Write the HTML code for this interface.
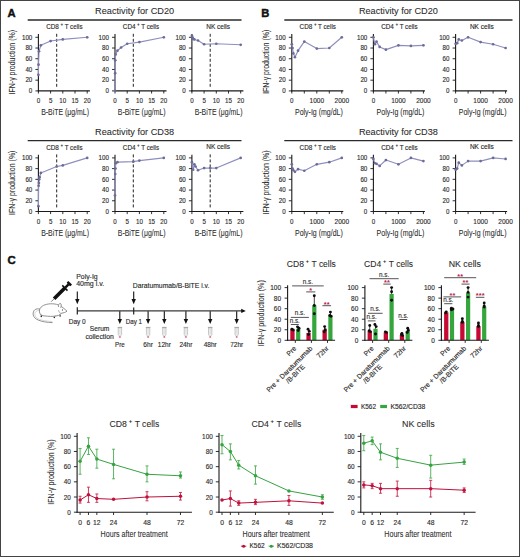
<!DOCTYPE html>
<html><head><meta charset="utf-8"><title>Figure</title>
<style>
html,body{margin:0;padding:0;background:#fff;}
body{width:520px;height:557px;overflow:hidden;font-family:"Liberation Sans", sans-serif;}
svg{display:block;}
text{font-family:"Liberation Sans", sans-serif;}
</style></head><body>
<svg width="520" height="557" viewBox="0 0 520 557" font-family="'Liberation Sans', sans-serif" fill="#2b2b2b"><rect x="0" y="0" width="520" height="557" fill="#fff"/><text x="134.6" y="14.3" font-size="9" text-anchor="middle" stroke="#2b2b2b" stroke-width="0.07" textLength="79" lengthAdjust="spacingAndGlyphs">Reactivity for CD20</text>
<line x1="27.7" y1="20" x2="241.5" y2="20" stroke="#2a2a2a" stroke-width="1.3"/>
<text x="398.4" y="14.3" font-size="9" text-anchor="middle" stroke="#2b2b2b" stroke-width="0.07" textLength="79" lengthAdjust="spacingAndGlyphs">Reactivity for CD20</text>
<line x1="284.3" y1="20" x2="512.5" y2="20" stroke="#2a2a2a" stroke-width="1.3"/>
<line x1="38.4" y1="34.1" x2="38.4" y2="91.5" stroke="#1a1a1a" stroke-width="1.1"/>
<line x1="37.9" y1="90.9" x2="89.9" y2="90.9" stroke="#1a1a1a" stroke-width="1.1"/>
<line x1="35.4" y1="90.9" x2="38.4" y2="90.9" stroke="#1a1a1a" stroke-width="0.9"/>
<text x="32.3" y="93.1" font-size="7" text-anchor="end" stroke="#2b2b2b" stroke-width="0.14" textLength="3.45" lengthAdjust="spacingAndGlyphs">0</text>
<line x1="35.4" y1="80.18" x2="38.4" y2="80.18" stroke="#1a1a1a" stroke-width="0.9"/>
<text x="32.3" y="82.38" font-size="7" text-anchor="end" stroke="#2b2b2b" stroke-width="0.14" textLength="6.9" lengthAdjust="spacingAndGlyphs">20</text>
<line x1="35.4" y1="69.46" x2="38.4" y2="69.46" stroke="#1a1a1a" stroke-width="0.9"/>
<text x="32.3" y="71.66" font-size="7" text-anchor="end" stroke="#2b2b2b" stroke-width="0.14" textLength="6.9" lengthAdjust="spacingAndGlyphs">40</text>
<line x1="35.4" y1="58.74" x2="38.4" y2="58.74" stroke="#1a1a1a" stroke-width="0.9"/>
<text x="32.3" y="60.94" font-size="7" text-anchor="end" stroke="#2b2b2b" stroke-width="0.14" textLength="6.9" lengthAdjust="spacingAndGlyphs">60</text>
<line x1="35.4" y1="48.02" x2="38.4" y2="48.02" stroke="#1a1a1a" stroke-width="0.9"/>
<text x="32.3" y="50.22" font-size="7" text-anchor="end" stroke="#2b2b2b" stroke-width="0.14" textLength="6.9" lengthAdjust="spacingAndGlyphs">80</text>
<line x1="35.4" y1="37.3" x2="38.4" y2="37.3" stroke="#1a1a1a" stroke-width="0.9"/>
<text x="32.3" y="39.5" font-size="7" text-anchor="end" stroke="#2b2b2b" stroke-width="0.14" textLength="10.35" lengthAdjust="spacingAndGlyphs">100</text>
<line x1="38.4" y1="90.9" x2="38.4" y2="93.5" stroke="#1a1a1a" stroke-width="0.9"/>
<text x="38.4" y="102.9" font-size="7.2" text-anchor="middle" stroke="#2b2b2b" stroke-width="0.14" textLength="3.45" lengthAdjust="spacingAndGlyphs">0</text>
<line x1="50.6" y1="90.9" x2="50.6" y2="93.5" stroke="#1a1a1a" stroke-width="0.9"/>
<text x="50.6" y="102.9" font-size="7.2" text-anchor="middle" stroke="#2b2b2b" stroke-width="0.14" textLength="3.45" lengthAdjust="spacingAndGlyphs">5</text>
<line x1="62.8" y1="90.9" x2="62.8" y2="93.5" stroke="#1a1a1a" stroke-width="0.9"/>
<text x="62.8" y="102.9" font-size="7.2" text-anchor="middle" stroke="#2b2b2b" stroke-width="0.14" textLength="6.9" lengthAdjust="spacingAndGlyphs">10</text>
<line x1="75" y1="90.9" x2="75" y2="93.5" stroke="#1a1a1a" stroke-width="0.9"/>
<text x="75" y="102.9" font-size="7.2" text-anchor="middle" stroke="#2b2b2b" stroke-width="0.14" textLength="6.9" lengthAdjust="spacingAndGlyphs">15</text>
<line x1="87.2" y1="90.9" x2="87.2" y2="93.5" stroke="#1a1a1a" stroke-width="0.9"/>
<text x="87.2" y="102.9" font-size="7.2" text-anchor="middle" stroke="#2b2b2b" stroke-width="0.14" textLength="6.9" lengthAdjust="spacingAndGlyphs">20</text>
<text x="41.2" y="114.9" font-size="8.8" stroke="#2b2b2b" stroke-width="0.07" textLength="47.8" lengthAdjust="spacingAndGlyphs">B-BiTE (μg/mL)</text>
<text x="46.2" y="28.9" font-size="6.9" stroke="#2b2b2b" stroke-width="0.14" textLength="12.71" lengthAdjust="spacingAndGlyphs">CD8</text>
<text x="61.81" y="26.14" font-size="4.55" text-anchor="middle" font-weight="bold">+</text>
<text x="64.71" y="28.9" font-size="6.9" stroke="#2b2b2b" stroke-width="0.14" textLength="17.79" lengthAdjust="spacingAndGlyphs">T cells</text>
<line x1="56.7" y1="33.8" x2="56.7" y2="88.4" stroke="#222" stroke-width="1" stroke-dasharray="3 2"/>
<polyline points="38.4,74.82 38.52,64.64 39.01,51.24 40.84,45.34 50.6,41.05 62.8,39.44 87.2,37.3" fill="none" stroke="#8f8fbf" stroke-width="1.15" stroke-linejoin="round"/>
<circle cx="38.4" cy="74.82" r="1.35" fill="#6c6c98"/>
<circle cx="38.52" cy="64.64" r="1.35" fill="#6c6c98"/>
<circle cx="39.01" cy="51.24" r="1.35" fill="#6c6c98"/>
<circle cx="40.84" cy="45.34" r="1.35" fill="#6c6c98"/>
<circle cx="50.6" cy="41.05" r="1.35" fill="#6c6c98"/>
<circle cx="62.8" cy="39.44" r="1.35" fill="#6c6c98"/>
<circle cx="87.2" cy="37.3" r="1.35" fill="#6c6c98"/>
<line x1="291.8" y1="34.1" x2="291.8" y2="91.5" stroke="#1a1a1a" stroke-width="1.1"/>
<line x1="291.3" y1="90.9" x2="343.3" y2="90.9" stroke="#1a1a1a" stroke-width="1.1"/>
<line x1="288.8" y1="90.9" x2="291.8" y2="90.9" stroke="#1a1a1a" stroke-width="0.9"/>
<text x="285.7" y="93.1" font-size="7" text-anchor="end" stroke="#2b2b2b" stroke-width="0.14" textLength="3.45" lengthAdjust="spacingAndGlyphs">0</text>
<line x1="288.8" y1="80.18" x2="291.8" y2="80.18" stroke="#1a1a1a" stroke-width="0.9"/>
<text x="285.7" y="82.38" font-size="7" text-anchor="end" stroke="#2b2b2b" stroke-width="0.14" textLength="6.9" lengthAdjust="spacingAndGlyphs">20</text>
<line x1="288.8" y1="69.46" x2="291.8" y2="69.46" stroke="#1a1a1a" stroke-width="0.9"/>
<text x="285.7" y="71.66" font-size="7" text-anchor="end" stroke="#2b2b2b" stroke-width="0.14" textLength="6.9" lengthAdjust="spacingAndGlyphs">40</text>
<line x1="288.8" y1="58.74" x2="291.8" y2="58.74" stroke="#1a1a1a" stroke-width="0.9"/>
<text x="285.7" y="60.94" font-size="7" text-anchor="end" stroke="#2b2b2b" stroke-width="0.14" textLength="6.9" lengthAdjust="spacingAndGlyphs">60</text>
<line x1="288.8" y1="48.02" x2="291.8" y2="48.02" stroke="#1a1a1a" stroke-width="0.9"/>
<text x="285.7" y="50.22" font-size="7" text-anchor="end" stroke="#2b2b2b" stroke-width="0.14" textLength="6.9" lengthAdjust="spacingAndGlyphs">80</text>
<line x1="288.8" y1="37.3" x2="291.8" y2="37.3" stroke="#1a1a1a" stroke-width="0.9"/>
<text x="285.7" y="39.5" font-size="7" text-anchor="end" stroke="#2b2b2b" stroke-width="0.14" textLength="10.35" lengthAdjust="spacingAndGlyphs">100</text>
<line x1="291.8" y1="90.9" x2="291.8" y2="93.5" stroke="#1a1a1a" stroke-width="0.9"/>
<text x="291.8" y="102.9" font-size="7.2" text-anchor="middle" stroke="#2b2b2b" stroke-width="0.14" textLength="3.45" lengthAdjust="spacingAndGlyphs">0</text>
<line x1="304.3" y1="90.9" x2="304.3" y2="93.5" stroke="#1a1a1a" stroke-width="0.9"/>
<line x1="316.8" y1="90.9" x2="316.8" y2="93.5" stroke="#1a1a1a" stroke-width="0.9"/>
<text x="316.8" y="102.9" font-size="7.2" text-anchor="middle" stroke="#2b2b2b" stroke-width="0.14" textLength="14.48" lengthAdjust="spacingAndGlyphs">1000</text>
<line x1="329.3" y1="90.9" x2="329.3" y2="93.5" stroke="#1a1a1a" stroke-width="0.9"/>
<line x1="341.8" y1="90.9" x2="341.8" y2="93.5" stroke="#1a1a1a" stroke-width="0.9"/>
<text x="341.8" y="102.9" font-size="7.2" text-anchor="middle" stroke="#2b2b2b" stroke-width="0.14" textLength="14.48" lengthAdjust="spacingAndGlyphs">2000</text>
<text x="295" y="114.9" font-size="8.8" stroke="#2b2b2b" stroke-width="0.07" textLength="47.8" lengthAdjust="spacingAndGlyphs">Poly-Ig (mg/dL)</text>
<text x="299.6" y="28.9" font-size="6.9" stroke="#2b2b2b" stroke-width="0.14" textLength="12.71" lengthAdjust="spacingAndGlyphs">CD8</text>
<text x="315.21" y="26.14" font-size="4.55" text-anchor="middle" font-weight="bold">+</text>
<text x="318.11" y="28.9" font-size="6.9" stroke="#2b2b2b" stroke-width="0.14" textLength="17.79" lengthAdjust="spacingAndGlyphs">T cells</text>
<polyline points="291.8,44.27 292.55,48.02 293.36,53.38 294.93,57.13 298.05,50.7 304.3,41.59 316.8,48.56 329.3,48.02 341.8,37.3" fill="none" stroke="#8f8fbf" stroke-width="1.15" stroke-linejoin="round"/>
<circle cx="291.8" cy="44.27" r="1.35" fill="#6c6c98"/>
<circle cx="292.55" cy="48.02" r="1.35" fill="#6c6c98"/>
<circle cx="293.36" cy="53.38" r="1.35" fill="#6c6c98"/>
<circle cx="294.93" cy="57.13" r="1.35" fill="#6c6c98"/>
<circle cx="298.05" cy="50.7" r="1.35" fill="#6c6c98"/>
<circle cx="304.3" cy="41.59" r="1.35" fill="#6c6c98"/>
<circle cx="316.8" cy="48.56" r="1.35" fill="#6c6c98"/>
<circle cx="329.3" cy="48.02" r="1.35" fill="#6c6c98"/>
<circle cx="341.8" cy="37.3" r="1.35" fill="#6c6c98"/>
<line x1="115" y1="34.1" x2="115" y2="91.5" stroke="#1a1a1a" stroke-width="1.1"/>
<line x1="114.5" y1="90.9" x2="166.5" y2="90.9" stroke="#1a1a1a" stroke-width="1.1"/>
<line x1="112" y1="90.9" x2="115" y2="90.9" stroke="#1a1a1a" stroke-width="0.9"/>
<text x="108.9" y="93.1" font-size="7" text-anchor="end" stroke="#2b2b2b" stroke-width="0.14" textLength="3.45" lengthAdjust="spacingAndGlyphs">0</text>
<line x1="112" y1="80.18" x2="115" y2="80.18" stroke="#1a1a1a" stroke-width="0.9"/>
<text x="108.9" y="82.38" font-size="7" text-anchor="end" stroke="#2b2b2b" stroke-width="0.14" textLength="6.9" lengthAdjust="spacingAndGlyphs">20</text>
<line x1="112" y1="69.46" x2="115" y2="69.46" stroke="#1a1a1a" stroke-width="0.9"/>
<text x="108.9" y="71.66" font-size="7" text-anchor="end" stroke="#2b2b2b" stroke-width="0.14" textLength="6.9" lengthAdjust="spacingAndGlyphs">40</text>
<line x1="112" y1="58.74" x2="115" y2="58.74" stroke="#1a1a1a" stroke-width="0.9"/>
<text x="108.9" y="60.94" font-size="7" text-anchor="end" stroke="#2b2b2b" stroke-width="0.14" textLength="6.9" lengthAdjust="spacingAndGlyphs">60</text>
<line x1="112" y1="48.02" x2="115" y2="48.02" stroke="#1a1a1a" stroke-width="0.9"/>
<text x="108.9" y="50.22" font-size="7" text-anchor="end" stroke="#2b2b2b" stroke-width="0.14" textLength="6.9" lengthAdjust="spacingAndGlyphs">80</text>
<line x1="112" y1="37.3" x2="115" y2="37.3" stroke="#1a1a1a" stroke-width="0.9"/>
<text x="108.9" y="39.5" font-size="7" text-anchor="end" stroke="#2b2b2b" stroke-width="0.14" textLength="10.35" lengthAdjust="spacingAndGlyphs">100</text>
<line x1="115" y1="90.9" x2="115" y2="93.5" stroke="#1a1a1a" stroke-width="0.9"/>
<text x="115" y="102.9" font-size="7.2" text-anchor="middle" stroke="#2b2b2b" stroke-width="0.14" textLength="3.45" lengthAdjust="spacingAndGlyphs">0</text>
<line x1="127.2" y1="90.9" x2="127.2" y2="93.5" stroke="#1a1a1a" stroke-width="0.9"/>
<text x="127.2" y="102.9" font-size="7.2" text-anchor="middle" stroke="#2b2b2b" stroke-width="0.14" textLength="3.45" lengthAdjust="spacingAndGlyphs">5</text>
<line x1="139.4" y1="90.9" x2="139.4" y2="93.5" stroke="#1a1a1a" stroke-width="0.9"/>
<text x="139.4" y="102.9" font-size="7.2" text-anchor="middle" stroke="#2b2b2b" stroke-width="0.14" textLength="6.9" lengthAdjust="spacingAndGlyphs">10</text>
<line x1="151.6" y1="90.9" x2="151.6" y2="93.5" stroke="#1a1a1a" stroke-width="0.9"/>
<text x="151.6" y="102.9" font-size="7.2" text-anchor="middle" stroke="#2b2b2b" stroke-width="0.14" textLength="6.9" lengthAdjust="spacingAndGlyphs">15</text>
<line x1="163.8" y1="90.9" x2="163.8" y2="93.5" stroke="#1a1a1a" stroke-width="0.9"/>
<text x="163.8" y="102.9" font-size="7.2" text-anchor="middle" stroke="#2b2b2b" stroke-width="0.14" textLength="6.9" lengthAdjust="spacingAndGlyphs">20</text>
<text x="117.8" y="114.9" font-size="8.8" stroke="#2b2b2b" stroke-width="0.07" textLength="47.8" lengthAdjust="spacingAndGlyphs">B-BiTE (μg/mL)</text>
<text x="122.8" y="28.9" font-size="6.9" stroke="#2b2b2b" stroke-width="0.14" textLength="12.7" lengthAdjust="spacingAndGlyphs">CD4</text>
<text x="138.41" y="26.14" font-size="4.55" text-anchor="middle" font-weight="bold">+</text>
<text x="141.31" y="28.9" font-size="6.9" stroke="#2b2b2b" stroke-width="0.14" textLength="17.79" lengthAdjust="spacingAndGlyphs">T cells</text>
<line x1="133.3" y1="33.8" x2="133.3" y2="88.4" stroke="#222" stroke-width="1" stroke-dasharray="3 2"/>
<polyline points="115,90.9 115.15,73.21 115.29,60.35 115.61,54.45 117.44,50.7 121.1,47.48 127.2,43.73 139.4,42.12 163.8,37.3" fill="none" stroke="#8f8fbf" stroke-width="1.15" stroke-linejoin="round"/>
<circle cx="115" cy="90.9" r="1.35" fill="#6c6c98"/>
<circle cx="115.15" cy="73.21" r="1.35" fill="#6c6c98"/>
<circle cx="115.29" cy="60.35" r="1.35" fill="#6c6c98"/>
<circle cx="115.61" cy="54.45" r="1.35" fill="#6c6c98"/>
<circle cx="117.44" cy="50.7" r="1.35" fill="#6c6c98"/>
<circle cx="121.1" cy="47.48" r="1.35" fill="#6c6c98"/>
<circle cx="127.2" cy="43.73" r="1.35" fill="#6c6c98"/>
<circle cx="139.4" cy="42.12" r="1.35" fill="#6c6c98"/>
<circle cx="163.8" cy="37.3" r="1.35" fill="#6c6c98"/>
<line x1="373.4" y1="34.1" x2="373.4" y2="91.5" stroke="#1a1a1a" stroke-width="1.1"/>
<line x1="372.9" y1="90.9" x2="424.9" y2="90.9" stroke="#1a1a1a" stroke-width="1.1"/>
<line x1="370.4" y1="90.9" x2="373.4" y2="90.9" stroke="#1a1a1a" stroke-width="0.9"/>
<text x="367.3" y="93.1" font-size="7" text-anchor="end" stroke="#2b2b2b" stroke-width="0.14" textLength="3.45" lengthAdjust="spacingAndGlyphs">0</text>
<line x1="370.4" y1="80.18" x2="373.4" y2="80.18" stroke="#1a1a1a" stroke-width="0.9"/>
<text x="367.3" y="82.38" font-size="7" text-anchor="end" stroke="#2b2b2b" stroke-width="0.14" textLength="6.9" lengthAdjust="spacingAndGlyphs">20</text>
<line x1="370.4" y1="69.46" x2="373.4" y2="69.46" stroke="#1a1a1a" stroke-width="0.9"/>
<text x="367.3" y="71.66" font-size="7" text-anchor="end" stroke="#2b2b2b" stroke-width="0.14" textLength="6.9" lengthAdjust="spacingAndGlyphs">40</text>
<line x1="370.4" y1="58.74" x2="373.4" y2="58.74" stroke="#1a1a1a" stroke-width="0.9"/>
<text x="367.3" y="60.94" font-size="7" text-anchor="end" stroke="#2b2b2b" stroke-width="0.14" textLength="6.9" lengthAdjust="spacingAndGlyphs">60</text>
<line x1="370.4" y1="48.02" x2="373.4" y2="48.02" stroke="#1a1a1a" stroke-width="0.9"/>
<text x="367.3" y="50.22" font-size="7" text-anchor="end" stroke="#2b2b2b" stroke-width="0.14" textLength="6.9" lengthAdjust="spacingAndGlyphs">80</text>
<line x1="370.4" y1="37.3" x2="373.4" y2="37.3" stroke="#1a1a1a" stroke-width="0.9"/>
<text x="367.3" y="39.5" font-size="7" text-anchor="end" stroke="#2b2b2b" stroke-width="0.14" textLength="10.35" lengthAdjust="spacingAndGlyphs">100</text>
<line x1="373.4" y1="90.9" x2="373.4" y2="93.5" stroke="#1a1a1a" stroke-width="0.9"/>
<text x="373.4" y="102.9" font-size="7.2" text-anchor="middle" stroke="#2b2b2b" stroke-width="0.14" textLength="3.45" lengthAdjust="spacingAndGlyphs">0</text>
<line x1="385.9" y1="90.9" x2="385.9" y2="93.5" stroke="#1a1a1a" stroke-width="0.9"/>
<line x1="398.4" y1="90.9" x2="398.4" y2="93.5" stroke="#1a1a1a" stroke-width="0.9"/>
<text x="398.4" y="102.9" font-size="7.2" text-anchor="middle" stroke="#2b2b2b" stroke-width="0.14" textLength="14.48" lengthAdjust="spacingAndGlyphs">1000</text>
<line x1="410.9" y1="90.9" x2="410.9" y2="93.5" stroke="#1a1a1a" stroke-width="0.9"/>
<line x1="423.4" y1="90.9" x2="423.4" y2="93.5" stroke="#1a1a1a" stroke-width="0.9"/>
<text x="423.4" y="102.9" font-size="7.2" text-anchor="middle" stroke="#2b2b2b" stroke-width="0.14" textLength="14.48" lengthAdjust="spacingAndGlyphs">2000</text>
<text x="376.6" y="114.9" font-size="8.8" stroke="#2b2b2b" stroke-width="0.07" textLength="47.8" lengthAdjust="spacingAndGlyphs">Poly-Ig (mg/dL)</text>
<text x="381.2" y="28.9" font-size="6.9" stroke="#2b2b2b" stroke-width="0.14" textLength="12.71" lengthAdjust="spacingAndGlyphs">CD4</text>
<text x="396.81" y="26.14" font-size="4.55" text-anchor="middle" font-weight="bold">+</text>
<text x="399.71" y="28.9" font-size="6.9" stroke="#2b2b2b" stroke-width="0.14" textLength="17.79" lengthAdjust="spacingAndGlyphs">T cells</text>
<polyline points="373.4,37.3 374.96,44.27 376.52,41.59 379.65,46.95 385.9,49.63 398.4,45.34 410.9,45.88 423.4,45.34" fill="none" stroke="#8f8fbf" stroke-width="1.15" stroke-linejoin="round"/>
<circle cx="373.4" cy="37.3" r="1.35" fill="#6c6c98"/>
<circle cx="374.96" cy="44.27" r="1.35" fill="#6c6c98"/>
<circle cx="376.52" cy="41.59" r="1.35" fill="#6c6c98"/>
<circle cx="379.65" cy="46.95" r="1.35" fill="#6c6c98"/>
<circle cx="385.9" cy="49.63" r="1.35" fill="#6c6c98"/>
<circle cx="398.4" cy="45.34" r="1.35" fill="#6c6c98"/>
<circle cx="410.9" cy="45.88" r="1.35" fill="#6c6c98"/>
<circle cx="423.4" cy="45.34" r="1.35" fill="#6c6c98"/>
<line x1="191.9" y1="34.1" x2="191.9" y2="91.5" stroke="#1a1a1a" stroke-width="1.1"/>
<line x1="191.4" y1="90.9" x2="243.4" y2="90.9" stroke="#1a1a1a" stroke-width="1.1"/>
<line x1="188.9" y1="90.9" x2="191.9" y2="90.9" stroke="#1a1a1a" stroke-width="0.9"/>
<text x="185.8" y="93.1" font-size="7" text-anchor="end" stroke="#2b2b2b" stroke-width="0.14" textLength="3.45" lengthAdjust="spacingAndGlyphs">0</text>
<line x1="188.9" y1="80.18" x2="191.9" y2="80.18" stroke="#1a1a1a" stroke-width="0.9"/>
<text x="185.8" y="82.38" font-size="7" text-anchor="end" stroke="#2b2b2b" stroke-width="0.14" textLength="6.9" lengthAdjust="spacingAndGlyphs">20</text>
<line x1="188.9" y1="69.46" x2="191.9" y2="69.46" stroke="#1a1a1a" stroke-width="0.9"/>
<text x="185.8" y="71.66" font-size="7" text-anchor="end" stroke="#2b2b2b" stroke-width="0.14" textLength="6.9" lengthAdjust="spacingAndGlyphs">40</text>
<line x1="188.9" y1="58.74" x2="191.9" y2="58.74" stroke="#1a1a1a" stroke-width="0.9"/>
<text x="185.8" y="60.94" font-size="7" text-anchor="end" stroke="#2b2b2b" stroke-width="0.14" textLength="6.9" lengthAdjust="spacingAndGlyphs">60</text>
<line x1="188.9" y1="48.02" x2="191.9" y2="48.02" stroke="#1a1a1a" stroke-width="0.9"/>
<text x="185.8" y="50.22" font-size="7" text-anchor="end" stroke="#2b2b2b" stroke-width="0.14" textLength="6.9" lengthAdjust="spacingAndGlyphs">80</text>
<line x1="188.9" y1="37.3" x2="191.9" y2="37.3" stroke="#1a1a1a" stroke-width="0.9"/>
<text x="185.8" y="39.5" font-size="7" text-anchor="end" stroke="#2b2b2b" stroke-width="0.14" textLength="10.35" lengthAdjust="spacingAndGlyphs">100</text>
<line x1="191.9" y1="90.9" x2="191.9" y2="93.5" stroke="#1a1a1a" stroke-width="0.9"/>
<text x="191.9" y="102.9" font-size="7.2" text-anchor="middle" stroke="#2b2b2b" stroke-width="0.14" textLength="3.45" lengthAdjust="spacingAndGlyphs">0</text>
<line x1="204.1" y1="90.9" x2="204.1" y2="93.5" stroke="#1a1a1a" stroke-width="0.9"/>
<text x="204.1" y="102.9" font-size="7.2" text-anchor="middle" stroke="#2b2b2b" stroke-width="0.14" textLength="3.45" lengthAdjust="spacingAndGlyphs">5</text>
<line x1="216.3" y1="90.9" x2="216.3" y2="93.5" stroke="#1a1a1a" stroke-width="0.9"/>
<text x="216.3" y="102.9" font-size="7.2" text-anchor="middle" stroke="#2b2b2b" stroke-width="0.14" textLength="6.9" lengthAdjust="spacingAndGlyphs">10</text>
<line x1="228.5" y1="90.9" x2="228.5" y2="93.5" stroke="#1a1a1a" stroke-width="0.9"/>
<text x="228.5" y="102.9" font-size="7.2" text-anchor="middle" stroke="#2b2b2b" stroke-width="0.14" textLength="6.9" lengthAdjust="spacingAndGlyphs">15</text>
<line x1="240.7" y1="90.9" x2="240.7" y2="93.5" stroke="#1a1a1a" stroke-width="0.9"/>
<text x="240.7" y="102.9" font-size="7.2" text-anchor="middle" stroke="#2b2b2b" stroke-width="0.14" textLength="6.9" lengthAdjust="spacingAndGlyphs">20</text>
<text x="194.7" y="114.9" font-size="8.8" stroke="#2b2b2b" stroke-width="0.07" textLength="47.8" lengthAdjust="spacingAndGlyphs">B-BiTE (μg/mL)</text>
<text x="206.2" y="28.8" font-size="6.9" stroke="#2b2b2b" stroke-width="0.14" textLength="23.9" lengthAdjust="spacingAndGlyphs">NK cells</text>
<line x1="210.2" y1="33.8" x2="210.2" y2="88.4" stroke="#222" stroke-width="1" stroke-dasharray="3 2"/>
<polyline points="191.9,35.69 192.51,37.3 193.12,38.91 194.34,39.44 198,40.52 204.1,44.27 216.3,43.73 240.7,44.8" fill="none" stroke="#8f8fbf" stroke-width="1.15" stroke-linejoin="round"/>
<circle cx="191.9" cy="35.69" r="1.35" fill="#6c6c98"/>
<circle cx="192.51" cy="37.3" r="1.35" fill="#6c6c98"/>
<circle cx="193.12" cy="38.91" r="1.35" fill="#6c6c98"/>
<circle cx="194.34" cy="39.44" r="1.35" fill="#6c6c98"/>
<circle cx="198" cy="40.52" r="1.35" fill="#6c6c98"/>
<circle cx="204.1" cy="44.27" r="1.35" fill="#6c6c98"/>
<circle cx="216.3" cy="43.73" r="1.35" fill="#6c6c98"/>
<circle cx="240.7" cy="44.8" r="1.35" fill="#6c6c98"/>
<line x1="455.6" y1="34.1" x2="455.6" y2="91.5" stroke="#1a1a1a" stroke-width="1.1"/>
<line x1="455.1" y1="90.9" x2="507.1" y2="90.9" stroke="#1a1a1a" stroke-width="1.1"/>
<line x1="452.6" y1="90.9" x2="455.6" y2="90.9" stroke="#1a1a1a" stroke-width="0.9"/>
<text x="449.5" y="93.1" font-size="7" text-anchor="end" stroke="#2b2b2b" stroke-width="0.14" textLength="3.45" lengthAdjust="spacingAndGlyphs">0</text>
<line x1="452.6" y1="80.18" x2="455.6" y2="80.18" stroke="#1a1a1a" stroke-width="0.9"/>
<text x="449.5" y="82.38" font-size="7" text-anchor="end" stroke="#2b2b2b" stroke-width="0.14" textLength="6.9" lengthAdjust="spacingAndGlyphs">20</text>
<line x1="452.6" y1="69.46" x2="455.6" y2="69.46" stroke="#1a1a1a" stroke-width="0.9"/>
<text x="449.5" y="71.66" font-size="7" text-anchor="end" stroke="#2b2b2b" stroke-width="0.14" textLength="6.9" lengthAdjust="spacingAndGlyphs">40</text>
<line x1="452.6" y1="58.74" x2="455.6" y2="58.74" stroke="#1a1a1a" stroke-width="0.9"/>
<text x="449.5" y="60.94" font-size="7" text-anchor="end" stroke="#2b2b2b" stroke-width="0.14" textLength="6.9" lengthAdjust="spacingAndGlyphs">60</text>
<line x1="452.6" y1="48.02" x2="455.6" y2="48.02" stroke="#1a1a1a" stroke-width="0.9"/>
<text x="449.5" y="50.22" font-size="7" text-anchor="end" stroke="#2b2b2b" stroke-width="0.14" textLength="6.9" lengthAdjust="spacingAndGlyphs">80</text>
<line x1="452.6" y1="37.3" x2="455.6" y2="37.3" stroke="#1a1a1a" stroke-width="0.9"/>
<text x="449.5" y="39.5" font-size="7" text-anchor="end" stroke="#2b2b2b" stroke-width="0.14" textLength="10.35" lengthAdjust="spacingAndGlyphs">100</text>
<line x1="455.6" y1="90.9" x2="455.6" y2="93.5" stroke="#1a1a1a" stroke-width="0.9"/>
<text x="455.6" y="102.9" font-size="7.2" text-anchor="middle" stroke="#2b2b2b" stroke-width="0.14" textLength="3.45" lengthAdjust="spacingAndGlyphs">0</text>
<line x1="468.1" y1="90.9" x2="468.1" y2="93.5" stroke="#1a1a1a" stroke-width="0.9"/>
<line x1="480.6" y1="90.9" x2="480.6" y2="93.5" stroke="#1a1a1a" stroke-width="0.9"/>
<text x="480.6" y="102.9" font-size="7.2" text-anchor="middle" stroke="#2b2b2b" stroke-width="0.14" textLength="14.48" lengthAdjust="spacingAndGlyphs">1000</text>
<line x1="493.1" y1="90.9" x2="493.1" y2="93.5" stroke="#1a1a1a" stroke-width="0.9"/>
<line x1="505.6" y1="90.9" x2="505.6" y2="93.5" stroke="#1a1a1a" stroke-width="0.9"/>
<text x="505.6" y="102.9" font-size="7.2" text-anchor="middle" stroke="#2b2b2b" stroke-width="0.14" textLength="14.48" lengthAdjust="spacingAndGlyphs">2000</text>
<text x="458.8" y="114.9" font-size="8.8" stroke="#2b2b2b" stroke-width="0.07" textLength="47.8" lengthAdjust="spacingAndGlyphs">Poly-Ig (mg/dL)</text>
<text x="469.9" y="28.8" font-size="6.9" stroke="#2b2b2b" stroke-width="0.14" textLength="23.9" lengthAdjust="spacingAndGlyphs">NK cells</text>
<polyline points="455.6,43.73 457.16,43.2 458.73,39.44 461.85,40.52 468.1,37.3 480.6,42.12 493.1,44.27 505.6,48.02" fill="none" stroke="#8f8fbf" stroke-width="1.15" stroke-linejoin="round"/>
<circle cx="455.6" cy="43.73" r="1.35" fill="#6c6c98"/>
<circle cx="457.16" cy="43.2" r="1.35" fill="#6c6c98"/>
<circle cx="458.73" cy="39.44" r="1.35" fill="#6c6c98"/>
<circle cx="461.85" cy="40.52" r="1.35" fill="#6c6c98"/>
<circle cx="468.1" cy="37.3" r="1.35" fill="#6c6c98"/>
<circle cx="480.6" cy="42.12" r="1.35" fill="#6c6c98"/>
<circle cx="493.1" cy="44.27" r="1.35" fill="#6c6c98"/>
<circle cx="505.6" cy="48.02" r="1.35" fill="#6c6c98"/>
<text x="14.7" y="62.2" font-size="9" text-anchor="middle" stroke="#2b2b2b" stroke-width="0.07" textLength="64.5" lengthAdjust="spacingAndGlyphs" transform="rotate(-90 14.7 62.2)">IFN-γ production (%)</text>
<text x="268.9" y="61.8" font-size="9" text-anchor="middle" stroke="#2b2b2b" stroke-width="0.07" textLength="64" lengthAdjust="spacingAndGlyphs" transform="rotate(-90 268.9 61.8)">IFN-γ production (%)</text>
<text x="134.6" y="134.9" font-size="9" text-anchor="middle" stroke="#2b2b2b" stroke-width="0.07" textLength="79" lengthAdjust="spacingAndGlyphs">Reactivity for CD38</text>
<line x1="27.7" y1="140.6" x2="241.5" y2="140.6" stroke="#2a2a2a" stroke-width="1.3"/>
<text x="398.4" y="134.9" font-size="9" text-anchor="middle" stroke="#2b2b2b" stroke-width="0.07" textLength="79" lengthAdjust="spacingAndGlyphs">Reactivity for CD38</text>
<line x1="284.3" y1="140.6" x2="512.5" y2="140.6" stroke="#2a2a2a" stroke-width="1.3"/>
<line x1="38.4" y1="154.7" x2="38.4" y2="212.1" stroke="#1a1a1a" stroke-width="1.1"/>
<line x1="37.9" y1="211.5" x2="89.9" y2="211.5" stroke="#1a1a1a" stroke-width="1.1"/>
<line x1="35.4" y1="211.5" x2="38.4" y2="211.5" stroke="#1a1a1a" stroke-width="0.9"/>
<text x="32.3" y="213.7" font-size="7" text-anchor="end" stroke="#2b2b2b" stroke-width="0.14" textLength="3.45" lengthAdjust="spacingAndGlyphs">0</text>
<line x1="35.4" y1="200.78" x2="38.4" y2="200.78" stroke="#1a1a1a" stroke-width="0.9"/>
<text x="32.3" y="202.98" font-size="7" text-anchor="end" stroke="#2b2b2b" stroke-width="0.14" textLength="6.9" lengthAdjust="spacingAndGlyphs">20</text>
<line x1="35.4" y1="190.06" x2="38.4" y2="190.06" stroke="#1a1a1a" stroke-width="0.9"/>
<text x="32.3" y="192.26" font-size="7" text-anchor="end" stroke="#2b2b2b" stroke-width="0.14" textLength="6.9" lengthAdjust="spacingAndGlyphs">40</text>
<line x1="35.4" y1="179.34" x2="38.4" y2="179.34" stroke="#1a1a1a" stroke-width="0.9"/>
<text x="32.3" y="181.54" font-size="7" text-anchor="end" stroke="#2b2b2b" stroke-width="0.14" textLength="6.9" lengthAdjust="spacingAndGlyphs">60</text>
<line x1="35.4" y1="168.62" x2="38.4" y2="168.62" stroke="#1a1a1a" stroke-width="0.9"/>
<text x="32.3" y="170.82" font-size="7" text-anchor="end" stroke="#2b2b2b" stroke-width="0.14" textLength="6.9" lengthAdjust="spacingAndGlyphs">80</text>
<line x1="35.4" y1="157.9" x2="38.4" y2="157.9" stroke="#1a1a1a" stroke-width="0.9"/>
<text x="32.3" y="160.1" font-size="7" text-anchor="end" stroke="#2b2b2b" stroke-width="0.14" textLength="10.35" lengthAdjust="spacingAndGlyphs">100</text>
<line x1="38.4" y1="211.5" x2="38.4" y2="214.1" stroke="#1a1a1a" stroke-width="0.9"/>
<text x="38.4" y="223.5" font-size="7.2" text-anchor="middle" stroke="#2b2b2b" stroke-width="0.14" textLength="3.45" lengthAdjust="spacingAndGlyphs">0</text>
<line x1="50.6" y1="211.5" x2="50.6" y2="214.1" stroke="#1a1a1a" stroke-width="0.9"/>
<text x="50.6" y="223.5" font-size="7.2" text-anchor="middle" stroke="#2b2b2b" stroke-width="0.14" textLength="3.45" lengthAdjust="spacingAndGlyphs">5</text>
<line x1="62.8" y1="211.5" x2="62.8" y2="214.1" stroke="#1a1a1a" stroke-width="0.9"/>
<text x="62.8" y="223.5" font-size="7.2" text-anchor="middle" stroke="#2b2b2b" stroke-width="0.14" textLength="6.9" lengthAdjust="spacingAndGlyphs">10</text>
<line x1="75" y1="211.5" x2="75" y2="214.1" stroke="#1a1a1a" stroke-width="0.9"/>
<text x="75" y="223.5" font-size="7.2" text-anchor="middle" stroke="#2b2b2b" stroke-width="0.14" textLength="6.9" lengthAdjust="spacingAndGlyphs">15</text>
<line x1="87.2" y1="211.5" x2="87.2" y2="214.1" stroke="#1a1a1a" stroke-width="0.9"/>
<text x="87.2" y="223.5" font-size="7.2" text-anchor="middle" stroke="#2b2b2b" stroke-width="0.14" textLength="6.9" lengthAdjust="spacingAndGlyphs">20</text>
<text x="41.2" y="235.5" font-size="8.8" stroke="#2b2b2b" stroke-width="0.07" textLength="47.8" lengthAdjust="spacingAndGlyphs">B-BiTE (μg/mL)</text>
<text x="46.2" y="149.5" font-size="6.9" stroke="#2b2b2b" stroke-width="0.14" textLength="12.71" lengthAdjust="spacingAndGlyphs">CD8</text>
<text x="61.81" y="146.74" font-size="4.55" text-anchor="middle" font-weight="bold">+</text>
<text x="64.71" y="149.5" font-size="6.9" stroke="#2b2b2b" stroke-width="0.14" textLength="17.79" lengthAdjust="spacingAndGlyphs">T cells</text>
<line x1="56.7" y1="154.4" x2="56.7" y2="209" stroke="#222" stroke-width="1" stroke-dasharray="3 2"/>
<polyline points="38.4,206.14 38.64,185.77 38.89,183.09 39.25,179.34 39.62,177.2 40.84,172.91 56.7,166.48 62.8,165.4 87.2,157.9" fill="none" stroke="#8f8fbf" stroke-width="1.15" stroke-linejoin="round"/>
<circle cx="38.4" cy="206.14" r="1.35" fill="#6c6c98"/>
<circle cx="38.64" cy="185.77" r="1.35" fill="#6c6c98"/>
<circle cx="38.89" cy="183.09" r="1.35" fill="#6c6c98"/>
<circle cx="39.25" cy="179.34" r="1.35" fill="#6c6c98"/>
<circle cx="39.62" cy="177.2" r="1.35" fill="#6c6c98"/>
<circle cx="40.84" cy="172.91" r="1.35" fill="#6c6c98"/>
<circle cx="56.7" cy="166.48" r="1.35" fill="#6c6c98"/>
<circle cx="62.8" cy="165.4" r="1.35" fill="#6c6c98"/>
<circle cx="87.2" cy="157.9" r="1.35" fill="#6c6c98"/>
<line x1="291.8" y1="154.7" x2="291.8" y2="212.1" stroke="#1a1a1a" stroke-width="1.1"/>
<line x1="291.3" y1="211.5" x2="343.3" y2="211.5" stroke="#1a1a1a" stroke-width="1.1"/>
<line x1="288.8" y1="211.5" x2="291.8" y2="211.5" stroke="#1a1a1a" stroke-width="0.9"/>
<text x="285.7" y="213.7" font-size="7" text-anchor="end" stroke="#2b2b2b" stroke-width="0.14" textLength="3.45" lengthAdjust="spacingAndGlyphs">0</text>
<line x1="288.8" y1="200.78" x2="291.8" y2="200.78" stroke="#1a1a1a" stroke-width="0.9"/>
<text x="285.7" y="202.98" font-size="7" text-anchor="end" stroke="#2b2b2b" stroke-width="0.14" textLength="6.9" lengthAdjust="spacingAndGlyphs">20</text>
<line x1="288.8" y1="190.06" x2="291.8" y2="190.06" stroke="#1a1a1a" stroke-width="0.9"/>
<text x="285.7" y="192.26" font-size="7" text-anchor="end" stroke="#2b2b2b" stroke-width="0.14" textLength="6.9" lengthAdjust="spacingAndGlyphs">40</text>
<line x1="288.8" y1="179.34" x2="291.8" y2="179.34" stroke="#1a1a1a" stroke-width="0.9"/>
<text x="285.7" y="181.54" font-size="7" text-anchor="end" stroke="#2b2b2b" stroke-width="0.14" textLength="6.9" lengthAdjust="spacingAndGlyphs">60</text>
<line x1="288.8" y1="168.62" x2="291.8" y2="168.62" stroke="#1a1a1a" stroke-width="0.9"/>
<text x="285.7" y="170.82" font-size="7" text-anchor="end" stroke="#2b2b2b" stroke-width="0.14" textLength="6.9" lengthAdjust="spacingAndGlyphs">80</text>
<line x1="288.8" y1="157.9" x2="291.8" y2="157.9" stroke="#1a1a1a" stroke-width="0.9"/>
<text x="285.7" y="160.1" font-size="7" text-anchor="end" stroke="#2b2b2b" stroke-width="0.14" textLength="10.35" lengthAdjust="spacingAndGlyphs">100</text>
<line x1="291.8" y1="211.5" x2="291.8" y2="214.1" stroke="#1a1a1a" stroke-width="0.9"/>
<text x="291.8" y="223.5" font-size="7.2" text-anchor="middle" stroke="#2b2b2b" stroke-width="0.14" textLength="3.45" lengthAdjust="spacingAndGlyphs">0</text>
<line x1="304.3" y1="211.5" x2="304.3" y2="214.1" stroke="#1a1a1a" stroke-width="0.9"/>
<line x1="316.8" y1="211.5" x2="316.8" y2="214.1" stroke="#1a1a1a" stroke-width="0.9"/>
<text x="316.8" y="223.5" font-size="7.2" text-anchor="middle" stroke="#2b2b2b" stroke-width="0.14" textLength="14.48" lengthAdjust="spacingAndGlyphs">1000</text>
<line x1="329.3" y1="211.5" x2="329.3" y2="214.1" stroke="#1a1a1a" stroke-width="0.9"/>
<line x1="341.8" y1="211.5" x2="341.8" y2="214.1" stroke="#1a1a1a" stroke-width="0.9"/>
<text x="341.8" y="223.5" font-size="7.2" text-anchor="middle" stroke="#2b2b2b" stroke-width="0.14" textLength="14.48" lengthAdjust="spacingAndGlyphs">2000</text>
<text x="295" y="235.5" font-size="8.8" stroke="#2b2b2b" stroke-width="0.07" textLength="47.8" lengthAdjust="spacingAndGlyphs">Poly-Ig (mg/dL)</text>
<text x="299.6" y="149.5" font-size="6.9" stroke="#2b2b2b" stroke-width="0.14" textLength="12.71" lengthAdjust="spacingAndGlyphs">CD8</text>
<text x="315.21" y="146.74" font-size="4.55" text-anchor="middle" font-weight="bold">+</text>
<text x="318.11" y="149.5" font-size="6.9" stroke="#2b2b2b" stroke-width="0.14" textLength="17.79" lengthAdjust="spacingAndGlyphs">T cells</text>
<polyline points="291.8,164.33 292.55,168.62 293.36,170.23 294.93,171.84 298.05,169.16 304.3,170.76 316.8,164.33 329.3,162.19 341.8,157.9" fill="none" stroke="#8f8fbf" stroke-width="1.15" stroke-linejoin="round"/>
<circle cx="291.8" cy="164.33" r="1.35" fill="#6c6c98"/>
<circle cx="292.55" cy="168.62" r="1.35" fill="#6c6c98"/>
<circle cx="293.36" cy="170.23" r="1.35" fill="#6c6c98"/>
<circle cx="294.93" cy="171.84" r="1.35" fill="#6c6c98"/>
<circle cx="298.05" cy="169.16" r="1.35" fill="#6c6c98"/>
<circle cx="304.3" cy="170.76" r="1.35" fill="#6c6c98"/>
<circle cx="316.8" cy="164.33" r="1.35" fill="#6c6c98"/>
<circle cx="329.3" cy="162.19" r="1.35" fill="#6c6c98"/>
<circle cx="341.8" cy="157.9" r="1.35" fill="#6c6c98"/>
<line x1="115" y1="154.7" x2="115" y2="212.1" stroke="#1a1a1a" stroke-width="1.1"/>
<line x1="114.5" y1="211.5" x2="166.5" y2="211.5" stroke="#1a1a1a" stroke-width="1.1"/>
<line x1="112" y1="211.5" x2="115" y2="211.5" stroke="#1a1a1a" stroke-width="0.9"/>
<text x="108.9" y="213.7" font-size="7" text-anchor="end" stroke="#2b2b2b" stroke-width="0.14" textLength="3.45" lengthAdjust="spacingAndGlyphs">0</text>
<line x1="112" y1="200.78" x2="115" y2="200.78" stroke="#1a1a1a" stroke-width="0.9"/>
<text x="108.9" y="202.98" font-size="7" text-anchor="end" stroke="#2b2b2b" stroke-width="0.14" textLength="6.9" lengthAdjust="spacingAndGlyphs">20</text>
<line x1="112" y1="190.06" x2="115" y2="190.06" stroke="#1a1a1a" stroke-width="0.9"/>
<text x="108.9" y="192.26" font-size="7" text-anchor="end" stroke="#2b2b2b" stroke-width="0.14" textLength="6.9" lengthAdjust="spacingAndGlyphs">40</text>
<line x1="112" y1="179.34" x2="115" y2="179.34" stroke="#1a1a1a" stroke-width="0.9"/>
<text x="108.9" y="181.54" font-size="7" text-anchor="end" stroke="#2b2b2b" stroke-width="0.14" textLength="6.9" lengthAdjust="spacingAndGlyphs">60</text>
<line x1="112" y1="168.62" x2="115" y2="168.62" stroke="#1a1a1a" stroke-width="0.9"/>
<text x="108.9" y="170.82" font-size="7" text-anchor="end" stroke="#2b2b2b" stroke-width="0.14" textLength="6.9" lengthAdjust="spacingAndGlyphs">80</text>
<line x1="112" y1="157.9" x2="115" y2="157.9" stroke="#1a1a1a" stroke-width="0.9"/>
<text x="108.9" y="160.1" font-size="7" text-anchor="end" stroke="#2b2b2b" stroke-width="0.14" textLength="10.35" lengthAdjust="spacingAndGlyphs">100</text>
<line x1="115" y1="211.5" x2="115" y2="214.1" stroke="#1a1a1a" stroke-width="0.9"/>
<text x="115" y="223.5" font-size="7.2" text-anchor="middle" stroke="#2b2b2b" stroke-width="0.14" textLength="3.45" lengthAdjust="spacingAndGlyphs">0</text>
<line x1="127.2" y1="211.5" x2="127.2" y2="214.1" stroke="#1a1a1a" stroke-width="0.9"/>
<text x="127.2" y="223.5" font-size="7.2" text-anchor="middle" stroke="#2b2b2b" stroke-width="0.14" textLength="3.45" lengthAdjust="spacingAndGlyphs">5</text>
<line x1="139.4" y1="211.5" x2="139.4" y2="214.1" stroke="#1a1a1a" stroke-width="0.9"/>
<text x="139.4" y="223.5" font-size="7.2" text-anchor="middle" stroke="#2b2b2b" stroke-width="0.14" textLength="6.9" lengthAdjust="spacingAndGlyphs">10</text>
<line x1="151.6" y1="211.5" x2="151.6" y2="214.1" stroke="#1a1a1a" stroke-width="0.9"/>
<text x="151.6" y="223.5" font-size="7.2" text-anchor="middle" stroke="#2b2b2b" stroke-width="0.14" textLength="6.9" lengthAdjust="spacingAndGlyphs">15</text>
<line x1="163.8" y1="211.5" x2="163.8" y2="214.1" stroke="#1a1a1a" stroke-width="0.9"/>
<text x="163.8" y="223.5" font-size="7.2" text-anchor="middle" stroke="#2b2b2b" stroke-width="0.14" textLength="6.9" lengthAdjust="spacingAndGlyphs">20</text>
<text x="117.8" y="235.5" font-size="8.8" stroke="#2b2b2b" stroke-width="0.07" textLength="47.8" lengthAdjust="spacingAndGlyphs">B-BiTE (μg/mL)</text>
<text x="122.8" y="149.5" font-size="6.9" stroke="#2b2b2b" stroke-width="0.14" textLength="12.7" lengthAdjust="spacingAndGlyphs">CD4</text>
<text x="138.41" y="146.74" font-size="4.55" text-anchor="middle" font-weight="bold">+</text>
<text x="141.31" y="149.5" font-size="6.9" stroke="#2b2b2b" stroke-width="0.14" textLength="17.79" lengthAdjust="spacingAndGlyphs">T cells</text>
<line x1="133.3" y1="154.4" x2="133.3" y2="209" stroke="#222" stroke-width="1" stroke-dasharray="3 2"/>
<polyline points="115,195.42 115.24,173.98 115.49,168.62 115.73,163.26 117.44,162.19 133.3,161.65 139.4,160.58 163.8,157.9" fill="none" stroke="#8f8fbf" stroke-width="1.15" stroke-linejoin="round"/>
<circle cx="115" cy="195.42" r="1.35" fill="#6c6c98"/>
<circle cx="115.24" cy="173.98" r="1.35" fill="#6c6c98"/>
<circle cx="115.49" cy="168.62" r="1.35" fill="#6c6c98"/>
<circle cx="115.73" cy="163.26" r="1.35" fill="#6c6c98"/>
<circle cx="117.44" cy="162.19" r="1.35" fill="#6c6c98"/>
<circle cx="133.3" cy="161.65" r="1.35" fill="#6c6c98"/>
<circle cx="139.4" cy="160.58" r="1.35" fill="#6c6c98"/>
<circle cx="163.8" cy="157.9" r="1.35" fill="#6c6c98"/>
<line x1="373.4" y1="154.7" x2="373.4" y2="212.1" stroke="#1a1a1a" stroke-width="1.1"/>
<line x1="372.9" y1="211.5" x2="424.9" y2="211.5" stroke="#1a1a1a" stroke-width="1.1"/>
<line x1="370.4" y1="211.5" x2="373.4" y2="211.5" stroke="#1a1a1a" stroke-width="0.9"/>
<text x="367.3" y="213.7" font-size="7" text-anchor="end" stroke="#2b2b2b" stroke-width="0.14" textLength="3.45" lengthAdjust="spacingAndGlyphs">0</text>
<line x1="370.4" y1="200.78" x2="373.4" y2="200.78" stroke="#1a1a1a" stroke-width="0.9"/>
<text x="367.3" y="202.98" font-size="7" text-anchor="end" stroke="#2b2b2b" stroke-width="0.14" textLength="6.9" lengthAdjust="spacingAndGlyphs">20</text>
<line x1="370.4" y1="190.06" x2="373.4" y2="190.06" stroke="#1a1a1a" stroke-width="0.9"/>
<text x="367.3" y="192.26" font-size="7" text-anchor="end" stroke="#2b2b2b" stroke-width="0.14" textLength="6.9" lengthAdjust="spacingAndGlyphs">40</text>
<line x1="370.4" y1="179.34" x2="373.4" y2="179.34" stroke="#1a1a1a" stroke-width="0.9"/>
<text x="367.3" y="181.54" font-size="7" text-anchor="end" stroke="#2b2b2b" stroke-width="0.14" textLength="6.9" lengthAdjust="spacingAndGlyphs">60</text>
<line x1="370.4" y1="168.62" x2="373.4" y2="168.62" stroke="#1a1a1a" stroke-width="0.9"/>
<text x="367.3" y="170.82" font-size="7" text-anchor="end" stroke="#2b2b2b" stroke-width="0.14" textLength="6.9" lengthAdjust="spacingAndGlyphs">80</text>
<line x1="370.4" y1="157.9" x2="373.4" y2="157.9" stroke="#1a1a1a" stroke-width="0.9"/>
<text x="367.3" y="160.1" font-size="7" text-anchor="end" stroke="#2b2b2b" stroke-width="0.14" textLength="10.35" lengthAdjust="spacingAndGlyphs">100</text>
<line x1="373.4" y1="211.5" x2="373.4" y2="214.1" stroke="#1a1a1a" stroke-width="0.9"/>
<text x="373.4" y="223.5" font-size="7.2" text-anchor="middle" stroke="#2b2b2b" stroke-width="0.14" textLength="3.45" lengthAdjust="spacingAndGlyphs">0</text>
<line x1="385.9" y1="211.5" x2="385.9" y2="214.1" stroke="#1a1a1a" stroke-width="0.9"/>
<line x1="398.4" y1="211.5" x2="398.4" y2="214.1" stroke="#1a1a1a" stroke-width="0.9"/>
<text x="398.4" y="223.5" font-size="7.2" text-anchor="middle" stroke="#2b2b2b" stroke-width="0.14" textLength="14.48" lengthAdjust="spacingAndGlyphs">1000</text>
<line x1="410.9" y1="211.5" x2="410.9" y2="214.1" stroke="#1a1a1a" stroke-width="0.9"/>
<line x1="423.4" y1="211.5" x2="423.4" y2="214.1" stroke="#1a1a1a" stroke-width="0.9"/>
<text x="423.4" y="223.5" font-size="7.2" text-anchor="middle" stroke="#2b2b2b" stroke-width="0.14" textLength="14.48" lengthAdjust="spacingAndGlyphs">2000</text>
<text x="376.6" y="235.5" font-size="8.8" stroke="#2b2b2b" stroke-width="0.07" textLength="47.8" lengthAdjust="spacingAndGlyphs">Poly-Ig (mg/dL)</text>
<text x="381.2" y="149.5" font-size="6.9" stroke="#2b2b2b" stroke-width="0.14" textLength="12.71" lengthAdjust="spacingAndGlyphs">CD4</text>
<text x="396.81" y="146.74" font-size="4.55" text-anchor="middle" font-weight="bold">+</text>
<text x="399.71" y="149.5" font-size="6.9" stroke="#2b2b2b" stroke-width="0.14" textLength="17.79" lengthAdjust="spacingAndGlyphs">T cells</text>
<polyline points="373.4,158.97 374.96,163.26 376.52,163.8 379.65,165.94 385.9,160.04 398.4,164.33 410.9,157.9 423.4,161.12" fill="none" stroke="#8f8fbf" stroke-width="1.15" stroke-linejoin="round"/>
<circle cx="373.4" cy="158.97" r="1.35" fill="#6c6c98"/>
<circle cx="374.96" cy="163.26" r="1.35" fill="#6c6c98"/>
<circle cx="376.52" cy="163.8" r="1.35" fill="#6c6c98"/>
<circle cx="379.65" cy="165.94" r="1.35" fill="#6c6c98"/>
<circle cx="385.9" cy="160.04" r="1.35" fill="#6c6c98"/>
<circle cx="398.4" cy="164.33" r="1.35" fill="#6c6c98"/>
<circle cx="410.9" cy="157.9" r="1.35" fill="#6c6c98"/>
<circle cx="423.4" cy="161.12" r="1.35" fill="#6c6c98"/>
<line x1="191.9" y1="154.7" x2="191.9" y2="212.1" stroke="#1a1a1a" stroke-width="1.1"/>
<line x1="191.4" y1="211.5" x2="243.4" y2="211.5" stroke="#1a1a1a" stroke-width="1.1"/>
<line x1="188.9" y1="211.5" x2="191.9" y2="211.5" stroke="#1a1a1a" stroke-width="0.9"/>
<text x="185.8" y="213.7" font-size="7" text-anchor="end" stroke="#2b2b2b" stroke-width="0.14" textLength="3.45" lengthAdjust="spacingAndGlyphs">0</text>
<line x1="188.9" y1="200.78" x2="191.9" y2="200.78" stroke="#1a1a1a" stroke-width="0.9"/>
<text x="185.8" y="202.98" font-size="7" text-anchor="end" stroke="#2b2b2b" stroke-width="0.14" textLength="6.9" lengthAdjust="spacingAndGlyphs">20</text>
<line x1="188.9" y1="190.06" x2="191.9" y2="190.06" stroke="#1a1a1a" stroke-width="0.9"/>
<text x="185.8" y="192.26" font-size="7" text-anchor="end" stroke="#2b2b2b" stroke-width="0.14" textLength="6.9" lengthAdjust="spacingAndGlyphs">40</text>
<line x1="188.9" y1="179.34" x2="191.9" y2="179.34" stroke="#1a1a1a" stroke-width="0.9"/>
<text x="185.8" y="181.54" font-size="7" text-anchor="end" stroke="#2b2b2b" stroke-width="0.14" textLength="6.9" lengthAdjust="spacingAndGlyphs">60</text>
<line x1="188.9" y1="168.62" x2="191.9" y2="168.62" stroke="#1a1a1a" stroke-width="0.9"/>
<text x="185.8" y="170.82" font-size="7" text-anchor="end" stroke="#2b2b2b" stroke-width="0.14" textLength="6.9" lengthAdjust="spacingAndGlyphs">80</text>
<line x1="188.9" y1="157.9" x2="191.9" y2="157.9" stroke="#1a1a1a" stroke-width="0.9"/>
<text x="185.8" y="160.1" font-size="7" text-anchor="end" stroke="#2b2b2b" stroke-width="0.14" textLength="10.35" lengthAdjust="spacingAndGlyphs">100</text>
<line x1="191.9" y1="211.5" x2="191.9" y2="214.1" stroke="#1a1a1a" stroke-width="0.9"/>
<text x="191.9" y="223.5" font-size="7.2" text-anchor="middle" stroke="#2b2b2b" stroke-width="0.14" textLength="3.45" lengthAdjust="spacingAndGlyphs">0</text>
<line x1="204.1" y1="211.5" x2="204.1" y2="214.1" stroke="#1a1a1a" stroke-width="0.9"/>
<text x="204.1" y="223.5" font-size="7.2" text-anchor="middle" stroke="#2b2b2b" stroke-width="0.14" textLength="3.45" lengthAdjust="spacingAndGlyphs">5</text>
<line x1="216.3" y1="211.5" x2="216.3" y2="214.1" stroke="#1a1a1a" stroke-width="0.9"/>
<text x="216.3" y="223.5" font-size="7.2" text-anchor="middle" stroke="#2b2b2b" stroke-width="0.14" textLength="6.9" lengthAdjust="spacingAndGlyphs">10</text>
<line x1="228.5" y1="211.5" x2="228.5" y2="214.1" stroke="#1a1a1a" stroke-width="0.9"/>
<text x="228.5" y="223.5" font-size="7.2" text-anchor="middle" stroke="#2b2b2b" stroke-width="0.14" textLength="6.9" lengthAdjust="spacingAndGlyphs">15</text>
<line x1="240.7" y1="211.5" x2="240.7" y2="214.1" stroke="#1a1a1a" stroke-width="0.9"/>
<text x="240.7" y="223.5" font-size="7.2" text-anchor="middle" stroke="#2b2b2b" stroke-width="0.14" textLength="6.9" lengthAdjust="spacingAndGlyphs">20</text>
<text x="194.7" y="235.5" font-size="8.8" stroke="#2b2b2b" stroke-width="0.07" textLength="47.8" lengthAdjust="spacingAndGlyphs">B-BiTE (μg/mL)</text>
<text x="206.2" y="149.4" font-size="6.9" stroke="#2b2b2b" stroke-width="0.14" textLength="23.9" lengthAdjust="spacingAndGlyphs">NK cells</text>
<line x1="210.2" y1="154.4" x2="210.2" y2="209" stroke="#222" stroke-width="1" stroke-dasharray="3 2"/>
<polyline points="191.9,162.19 193.12,169.69 194.34,164.33 195.56,166.48 198,170.23 204.1,168.08 210.2,168.08 216.3,168.08 240.7,157.9" fill="none" stroke="#8f8fbf" stroke-width="1.15" stroke-linejoin="round"/>
<circle cx="191.9" cy="162.19" r="1.35" fill="#6c6c98"/>
<circle cx="193.12" cy="169.69" r="1.35" fill="#6c6c98"/>
<circle cx="194.34" cy="164.33" r="1.35" fill="#6c6c98"/>
<circle cx="195.56" cy="166.48" r="1.35" fill="#6c6c98"/>
<circle cx="198" cy="170.23" r="1.35" fill="#6c6c98"/>
<circle cx="204.1" cy="168.08" r="1.35" fill="#6c6c98"/>
<circle cx="210.2" cy="168.08" r="1.35" fill="#6c6c98"/>
<circle cx="216.3" cy="168.08" r="1.35" fill="#6c6c98"/>
<circle cx="240.7" cy="157.9" r="1.35" fill="#6c6c98"/>
<line x1="455.6" y1="154.7" x2="455.6" y2="212.1" stroke="#1a1a1a" stroke-width="1.1"/>
<line x1="455.1" y1="211.5" x2="507.1" y2="211.5" stroke="#1a1a1a" stroke-width="1.1"/>
<line x1="452.6" y1="211.5" x2="455.6" y2="211.5" stroke="#1a1a1a" stroke-width="0.9"/>
<text x="449.5" y="213.7" font-size="7" text-anchor="end" stroke="#2b2b2b" stroke-width="0.14" textLength="3.45" lengthAdjust="spacingAndGlyphs">0</text>
<line x1="452.6" y1="200.78" x2="455.6" y2="200.78" stroke="#1a1a1a" stroke-width="0.9"/>
<text x="449.5" y="202.98" font-size="7" text-anchor="end" stroke="#2b2b2b" stroke-width="0.14" textLength="6.9" lengthAdjust="spacingAndGlyphs">20</text>
<line x1="452.6" y1="190.06" x2="455.6" y2="190.06" stroke="#1a1a1a" stroke-width="0.9"/>
<text x="449.5" y="192.26" font-size="7" text-anchor="end" stroke="#2b2b2b" stroke-width="0.14" textLength="6.9" lengthAdjust="spacingAndGlyphs">40</text>
<line x1="452.6" y1="179.34" x2="455.6" y2="179.34" stroke="#1a1a1a" stroke-width="0.9"/>
<text x="449.5" y="181.54" font-size="7" text-anchor="end" stroke="#2b2b2b" stroke-width="0.14" textLength="6.9" lengthAdjust="spacingAndGlyphs">60</text>
<line x1="452.6" y1="168.62" x2="455.6" y2="168.62" stroke="#1a1a1a" stroke-width="0.9"/>
<text x="449.5" y="170.82" font-size="7" text-anchor="end" stroke="#2b2b2b" stroke-width="0.14" textLength="6.9" lengthAdjust="spacingAndGlyphs">80</text>
<line x1="452.6" y1="157.9" x2="455.6" y2="157.9" stroke="#1a1a1a" stroke-width="0.9"/>
<text x="449.5" y="160.1" font-size="7" text-anchor="end" stroke="#2b2b2b" stroke-width="0.14" textLength="10.35" lengthAdjust="spacingAndGlyphs">100</text>
<line x1="455.6" y1="211.5" x2="455.6" y2="214.1" stroke="#1a1a1a" stroke-width="0.9"/>
<text x="455.6" y="223.5" font-size="7.2" text-anchor="middle" stroke="#2b2b2b" stroke-width="0.14" textLength="3.45" lengthAdjust="spacingAndGlyphs">0</text>
<line x1="468.1" y1="211.5" x2="468.1" y2="214.1" stroke="#1a1a1a" stroke-width="0.9"/>
<line x1="480.6" y1="211.5" x2="480.6" y2="214.1" stroke="#1a1a1a" stroke-width="0.9"/>
<text x="480.6" y="223.5" font-size="7.2" text-anchor="middle" stroke="#2b2b2b" stroke-width="0.14" textLength="14.48" lengthAdjust="spacingAndGlyphs">1000</text>
<line x1="493.1" y1="211.5" x2="493.1" y2="214.1" stroke="#1a1a1a" stroke-width="0.9"/>
<line x1="505.6" y1="211.5" x2="505.6" y2="214.1" stroke="#1a1a1a" stroke-width="0.9"/>
<text x="505.6" y="223.5" font-size="7.2" text-anchor="middle" stroke="#2b2b2b" stroke-width="0.14" textLength="14.48" lengthAdjust="spacingAndGlyphs">2000</text>
<text x="458.8" y="235.5" font-size="8.8" stroke="#2b2b2b" stroke-width="0.07" textLength="47.8" lengthAdjust="spacingAndGlyphs">Poly-Ig (mg/dL)</text>
<text x="469.9" y="149.4" font-size="6.9" stroke="#2b2b2b" stroke-width="0.14" textLength="23.9" lengthAdjust="spacingAndGlyphs">NK cells</text>
<polyline points="455.6,169.69 457.16,168.62 458.73,162.72 461.85,165.4 468.1,161.12 480.6,161.12 493.1,157.9 505.6,158.97" fill="none" stroke="#8f8fbf" stroke-width="1.15" stroke-linejoin="round"/>
<circle cx="455.6" cy="169.69" r="1.35" fill="#6c6c98"/>
<circle cx="457.16" cy="168.62" r="1.35" fill="#6c6c98"/>
<circle cx="458.73" cy="162.72" r="1.35" fill="#6c6c98"/>
<circle cx="461.85" cy="165.4" r="1.35" fill="#6c6c98"/>
<circle cx="468.1" cy="161.12" r="1.35" fill="#6c6c98"/>
<circle cx="480.6" cy="161.12" r="1.35" fill="#6c6c98"/>
<circle cx="493.1" cy="157.9" r="1.35" fill="#6c6c98"/>
<circle cx="505.6" cy="158.97" r="1.35" fill="#6c6c98"/>
<text x="14.7" y="182.8" font-size="9" text-anchor="middle" stroke="#2b2b2b" stroke-width="0.07" textLength="64.5" lengthAdjust="spacingAndGlyphs" transform="rotate(-90 14.7 182.8)">IFN-γ production (%)</text>
<text x="268.9" y="182.4" font-size="9" text-anchor="middle" stroke="#2b2b2b" stroke-width="0.07" textLength="64" lengthAdjust="spacingAndGlyphs" transform="rotate(-90 268.9 182.4)">IFN-γ production (%)</text>
<text x="7.5" y="16.8" font-size="11.2" font-weight="bold" fill="#111" stroke="#111" stroke-width="0.45">A</text>
<text x="261.2" y="16.8" font-size="11.2" font-weight="bold" fill="#111" stroke="#111" stroke-width="0.45">B</text>
<text x="7.6" y="263.9" font-size="11.4" font-weight="bold" fill="#111" stroke="#111" stroke-width="0.45">C</text>
<rect x="290.3" y="329.76" width="4.3" height="10.54" fill="#c70a33"/>
<rect x="296.1" y="328.71" width="4.2" height="11.59" fill="#34a63d"/>
<line x1="292.45" y1="328.97" x2="292.45" y2="329.76" stroke="#111" stroke-width="0.8"/>
<circle cx="291.85" cy="329.23" r="1.45" fill="#0d0d0d"/>
<circle cx="293.25" cy="330.02" r="1.45" fill="#0d0d0d"/>
<line x1="298.2" y1="326.6" x2="298.2" y2="328.71" stroke="#111" stroke-width="0.8"/>
<circle cx="297.5" cy="326.86" r="1.45" fill="#0d0d0d"/>
<circle cx="299" cy="328.18" r="1.45" fill="#0d0d0d"/>
<circle cx="298.2" cy="330.55" r="1.45" fill="#0d0d0d"/>
<line x1="295.3" y1="340.3" x2="295.3" y2="342.9" stroke="#1a1a1a" stroke-width="0.9"/>
<rect x="306.4" y="332.92" width="4.3" height="7.38" fill="#c70a33"/>
<rect x="312.2" y="305.25" width="4.2" height="35.05" fill="#34a63d"/>
<line x1="308.55" y1="329.23" x2="308.55" y2="332.92" stroke="#111" stroke-width="0.8"/>
<circle cx="308.05" cy="329.23" r="1.45" fill="#0d0d0d"/>
<circle cx="309.35" cy="331.34" r="1.45" fill="#0d0d0d"/>
<circle cx="308.55" cy="334.5" r="1.45" fill="#0d0d0d"/>
<line x1="314.3" y1="295.77" x2="314.3" y2="305.25" stroke="#111" stroke-width="0.8"/>
<circle cx="314.3" cy="295.77" r="1.45" fill="#0d0d0d"/>
<circle cx="314.3" cy="305.52" r="1.45" fill="#0d0d0d"/>
<circle cx="314.3" cy="313.69" r="1.45" fill="#0d0d0d"/>
<line x1="311.4" y1="340.3" x2="311.4" y2="342.9" stroke="#1a1a1a" stroke-width="0.9"/>
<rect x="322.5" y="329.76" width="4.3" height="10.54" fill="#c70a33"/>
<rect x="328.3" y="315.27" width="4.2" height="25.03" fill="#34a63d"/>
<line x1="324.65" y1="326.6" x2="324.65" y2="329.76" stroke="#111" stroke-width="0.8"/>
<circle cx="324.65" cy="326.6" r="1.45" fill="#0d0d0d"/>
<circle cx="325.25" cy="329.76" r="1.45" fill="#0d0d0d"/>
<circle cx="324.15" cy="331.87" r="1.45" fill="#0d0d0d"/>
<line x1="330.4" y1="312.11" x2="330.4" y2="315.27" stroke="#111" stroke-width="0.8"/>
<circle cx="330.4" cy="312.11" r="1.45" fill="#0d0d0d"/>
<circle cx="329.8" cy="315.53" r="1.45" fill="#0d0d0d"/>
<circle cx="331" cy="316.32" r="1.45" fill="#0d0d0d"/>
<line x1="327.5" y1="340.3" x2="327.5" y2="342.9" stroke="#1a1a1a" stroke-width="0.9"/>
<line x1="287.6" y1="285.2" x2="287.6" y2="340.9" stroke="#1a1a1a" stroke-width="1.1"/>
<line x1="287.1" y1="340.3" x2="335.1" y2="340.3" stroke="#1a1a1a" stroke-width="1.1"/>
<line x1="284.6" y1="340.3" x2="287.6" y2="340.3" stroke="#1a1a1a" stroke-width="0.9"/>
<text x="281" y="342.7" font-size="6.6" text-anchor="end" stroke="#2b2b2b" stroke-width="0.14" textLength="3.6" lengthAdjust="spacingAndGlyphs">0</text>
<line x1="284.6" y1="329.76" x2="287.6" y2="329.76" stroke="#1a1a1a" stroke-width="0.9"/>
<text x="281" y="332.16" font-size="6.6" text-anchor="end" stroke="#2b2b2b" stroke-width="0.14" textLength="7.2" lengthAdjust="spacingAndGlyphs">20</text>
<line x1="284.6" y1="319.22" x2="287.6" y2="319.22" stroke="#1a1a1a" stroke-width="0.9"/>
<text x="281" y="321.62" font-size="6.6" text-anchor="end" stroke="#2b2b2b" stroke-width="0.14" textLength="7.2" lengthAdjust="spacingAndGlyphs">40</text>
<line x1="284.6" y1="308.68" x2="287.6" y2="308.68" stroke="#1a1a1a" stroke-width="0.9"/>
<text x="281" y="311.08" font-size="6.6" text-anchor="end" stroke="#2b2b2b" stroke-width="0.14" textLength="7.2" lengthAdjust="spacingAndGlyphs">60</text>
<line x1="284.6" y1="298.14" x2="287.6" y2="298.14" stroke="#1a1a1a" stroke-width="0.9"/>
<text x="281" y="300.54" font-size="6.6" text-anchor="end" stroke="#2b2b2b" stroke-width="0.14" textLength="7.2" lengthAdjust="spacingAndGlyphs">80</text>
<line x1="284.6" y1="287.6" x2="287.6" y2="287.6" stroke="#1a1a1a" stroke-width="0.9"/>
<text x="281" y="290" font-size="6.6" text-anchor="end" stroke="#2b2b2b" stroke-width="0.14" textLength="10.8" lengthAdjust="spacingAndGlyphs">100</text>
<text x="286.8" y="266.7" font-size="8.4" stroke="#2b2b2b" stroke-width="0.07" textLength="17.15" lengthAdjust="spacingAndGlyphs">CD8</text>
<text x="307.38" y="263.34" font-size="5.54" text-anchor="middle" font-weight="bold">+</text>
<text x="311.55" y="266.7" font-size="8.4" stroke="#2b2b2b" stroke-width="0.07" textLength="24.25" lengthAdjust="spacingAndGlyphs">T cells</text>
<line x1="292.1" y1="285.9" x2="323.7" y2="285.9" stroke="#555" stroke-width="1"/>
<text x="307.9" y="283.9" font-size="6.8" text-anchor="middle" fill="#333" stroke="#333" stroke-width="0.14" textLength="10.2" lengthAdjust="spacingAndGlyphs">n.s.</text>
<line x1="306.2" y1="291.9" x2="315.3" y2="291.9" stroke="#555" stroke-width="1"/>
<text x="310.75" y="292.8" font-size="7.4" text-anchor="middle" font-weight="bold" fill="#b8234a">*</text>
<line x1="290.8" y1="317.4" x2="308.9" y2="317.4" stroke="#555" stroke-width="1"/>
<text x="299.85" y="315.4" font-size="6.8" text-anchor="middle" fill="#333" stroke="#333" stroke-width="0.14" textLength="10.2" lengthAdjust="spacingAndGlyphs">n.s.</text>
<line x1="290.8" y1="324.5" x2="298.8" y2="324.5" stroke="#555" stroke-width="1"/>
<text x="294.8" y="322.5" font-size="6.8" text-anchor="middle" fill="#333" stroke="#333" stroke-width="0.14" textLength="10.2" lengthAdjust="spacingAndGlyphs">n.s.</text>
<line x1="322.4" y1="305.7" x2="331.1" y2="305.7" stroke="#555" stroke-width="1"/>
<text x="325.25" y="306.6" font-size="7.4" text-anchor="middle" font-weight="bold" fill="#b8234a">*</text>
<text x="328.25" y="306.6" font-size="7.4" text-anchor="middle" font-weight="bold" fill="#b8234a">*</text>
<g transform="rotate(-45 296.8 348.9)">
<text x="296.8" y="348.9" font-size="6.85" text-anchor="end" stroke="#2b2b2b" stroke-width="0.14">Pre</text>
</g>
<g transform="rotate(-45 312.9 348.9)">
<text x="312.9" y="348.9" font-size="6.85" text-anchor="end" stroke="#2b2b2b" stroke-width="0.14">Pre + Daratumumab</text>
<text x="282.77" y="356.4" font-size="6.85" text-anchor="middle" stroke="#2b2b2b" stroke-width="0.14">/B-BiTE</text>
</g>
<g transform="rotate(-45 329 348.9)">
<text x="329" y="348.9" font-size="6.85" text-anchor="end" stroke="#2b2b2b" stroke-width="0.14">72hr</text>
</g>
<rect x="367.6" y="330.81" width="4.3" height="9.49" fill="#c70a33"/>
<rect x="373.4" y="328.71" width="4.2" height="11.59" fill="#34a63d"/>
<line x1="369.75" y1="325.54" x2="369.75" y2="330.81" stroke="#111" stroke-width="0.8"/>
<circle cx="369.75" cy="325.54" r="1.45" fill="#0d0d0d"/>
<circle cx="369.25" cy="330.81" r="1.45" fill="#0d0d0d"/>
<circle cx="370.35" cy="331.87" r="1.45" fill="#0d0d0d"/>
<line x1="375.5" y1="324.49" x2="375.5" y2="328.71" stroke="#111" stroke-width="0.8"/>
<circle cx="374.9" cy="324.49" r="1.45" fill="#0d0d0d"/>
<circle cx="376.2" cy="326.6" r="1.45" fill="#0d0d0d"/>
<circle cx="375.5" cy="333.98" r="1.45" fill="#0d0d0d"/>
<line x1="372.6" y1="340.3" x2="372.6" y2="342.9" stroke="#1a1a1a" stroke-width="0.9"/>
<rect x="383.7" y="332.4" width="4.3" height="7.91" fill="#c70a33"/>
<rect x="389.5" y="293.92" width="4.2" height="46.38" fill="#34a63d"/>
<line x1="385.85" y1="331.87" x2="385.85" y2="332.4" stroke="#111" stroke-width="0.8"/>
<circle cx="385.35" cy="331.87" r="1.45" fill="#0d0d0d"/>
<circle cx="386.45" cy="332.4" r="1.45" fill="#0d0d0d"/>
<line x1="391.6" y1="287.6" x2="391.6" y2="293.92" stroke="#111" stroke-width="0.8"/>
<circle cx="391.6" cy="287.6" r="1.45" fill="#0d0d0d"/>
<circle cx="391.6" cy="291.82" r="1.45" fill="#0d0d0d"/>
<circle cx="391.6" cy="300.25" r="1.45" fill="#0d0d0d"/>
<line x1="388.7" y1="340.3" x2="388.7" y2="342.9" stroke="#1a1a1a" stroke-width="0.9"/>
<rect x="399.8" y="335.03" width="4.3" height="5.27" fill="#c70a33"/>
<rect x="405.6" y="330.81" width="4.2" height="9.49" fill="#34a63d"/>
<line x1="401.95" y1="333.45" x2="401.95" y2="335.03" stroke="#111" stroke-width="0.8"/>
<circle cx="401.95" cy="333.45" r="1.45" fill="#0d0d0d"/>
<circle cx="401.45" cy="334.5" r="1.45" fill="#0d0d0d"/>
<circle cx="402.55" cy="335.56" r="1.45" fill="#0d0d0d"/>
<line x1="407.7" y1="328.18" x2="407.7" y2="330.81" stroke="#111" stroke-width="0.8"/>
<circle cx="407.7" cy="328.18" r="1.45" fill="#0d0d0d"/>
<circle cx="408.3" cy="330.29" r="1.45" fill="#0d0d0d"/>
<circle cx="407.2" cy="332.4" r="1.45" fill="#0d0d0d"/>
<line x1="404.8" y1="340.3" x2="404.8" y2="342.9" stroke="#1a1a1a" stroke-width="0.9"/>
<line x1="364.9" y1="285.2" x2="364.9" y2="340.9" stroke="#1a1a1a" stroke-width="1.1"/>
<line x1="364.4" y1="340.3" x2="412.4" y2="340.3" stroke="#1a1a1a" stroke-width="1.1"/>
<line x1="361.9" y1="340.3" x2="364.9" y2="340.3" stroke="#1a1a1a" stroke-width="0.9"/>
<text x="358.3" y="342.7" font-size="6.6" text-anchor="end" stroke="#2b2b2b" stroke-width="0.14" textLength="3.6" lengthAdjust="spacingAndGlyphs">0</text>
<line x1="361.9" y1="329.76" x2="364.9" y2="329.76" stroke="#1a1a1a" stroke-width="0.9"/>
<text x="358.3" y="332.16" font-size="6.6" text-anchor="end" stroke="#2b2b2b" stroke-width="0.14" textLength="7.2" lengthAdjust="spacingAndGlyphs">20</text>
<line x1="361.9" y1="319.22" x2="364.9" y2="319.22" stroke="#1a1a1a" stroke-width="0.9"/>
<text x="358.3" y="321.62" font-size="6.6" text-anchor="end" stroke="#2b2b2b" stroke-width="0.14" textLength="7.2" lengthAdjust="spacingAndGlyphs">40</text>
<line x1="361.9" y1="308.68" x2="364.9" y2="308.68" stroke="#1a1a1a" stroke-width="0.9"/>
<text x="358.3" y="311.08" font-size="6.6" text-anchor="end" stroke="#2b2b2b" stroke-width="0.14" textLength="7.2" lengthAdjust="spacingAndGlyphs">60</text>
<line x1="361.9" y1="298.14" x2="364.9" y2="298.14" stroke="#1a1a1a" stroke-width="0.9"/>
<text x="358.3" y="300.54" font-size="6.6" text-anchor="end" stroke="#2b2b2b" stroke-width="0.14" textLength="7.2" lengthAdjust="spacingAndGlyphs">80</text>
<line x1="361.9" y1="287.6" x2="364.9" y2="287.6" stroke="#1a1a1a" stroke-width="0.9"/>
<text x="358.3" y="290" font-size="6.6" text-anchor="end" stroke="#2b2b2b" stroke-width="0.14" textLength="10.8" lengthAdjust="spacingAndGlyphs">100</text>
<text x="364.1" y="266.7" font-size="8.4" stroke="#2b2b2b" stroke-width="0.07" textLength="17.15" lengthAdjust="spacingAndGlyphs">CD4</text>
<text x="384.68" y="263.34" font-size="5.54" text-anchor="middle" font-weight="bold">+</text>
<text x="388.84" y="266.7" font-size="8.4" stroke="#2b2b2b" stroke-width="0.07" textLength="24.25" lengthAdjust="spacingAndGlyphs">T cells</text>
<line x1="369.5" y1="278.7" x2="398.7" y2="278.7" stroke="#555" stroke-width="1"/>
<text x="384.1" y="276.7" font-size="6.8" text-anchor="middle" fill="#333" stroke="#333" stroke-width="0.14" textLength="10.2" lengthAdjust="spacingAndGlyphs">n.s.</text>
<line x1="383.3" y1="284.1" x2="390.7" y2="284.1" stroke="#555" stroke-width="1"/>
<text x="385.5" y="285" font-size="7.4" text-anchor="middle" font-weight="bold" fill="#b8234a">*</text>
<text x="388.5" y="285" font-size="7.4" text-anchor="middle" font-weight="bold" fill="#b8234a">*</text>
<line x1="368" y1="313.3" x2="382.6" y2="313.3" stroke="#555" stroke-width="1"/>
<text x="375.3" y="311.3" font-size="6.8" text-anchor="middle" fill="#333" stroke="#333" stroke-width="0.14" textLength="10.2" lengthAdjust="spacingAndGlyphs">n.s.</text>
<line x1="367.8" y1="320.9" x2="375.5" y2="320.9" stroke="#555" stroke-width="1"/>
<text x="371.65" y="318.9" font-size="6.8" text-anchor="middle" fill="#333" stroke="#333" stroke-width="0.14" textLength="10.2" lengthAdjust="spacingAndGlyphs">n.s.</text>
<line x1="399.4" y1="319.5" x2="407.2" y2="319.5" stroke="#555" stroke-width="1"/>
<text x="403.3" y="317.5" font-size="6.8" text-anchor="middle" fill="#333" stroke="#333" stroke-width="0.14" textLength="10.2" lengthAdjust="spacingAndGlyphs">n.s.</text>
<g transform="rotate(-45 374.1 348.9)">
<text x="374.1" y="348.9" font-size="6.85" text-anchor="end" stroke="#2b2b2b" stroke-width="0.14">Pre</text>
</g>
<g transform="rotate(-45 390.2 348.9)">
<text x="390.2" y="348.9" font-size="6.85" text-anchor="end" stroke="#2b2b2b" stroke-width="0.14">Pre + Daratumumab</text>
<text x="360.07" y="356.4" font-size="6.85" text-anchor="middle" stroke="#2b2b2b" stroke-width="0.14">/B-BiTE</text>
</g>
<g transform="rotate(-45 406.3 348.9)">
<text x="406.3" y="348.9" font-size="6.85" text-anchor="end" stroke="#2b2b2b" stroke-width="0.14">72hr</text>
</g>
<rect x="444.1" y="312.37" width="4.3" height="27.93" fill="#c70a33"/>
<rect x="449.9" y="309.21" width="4.2" height="31.09" fill="#34a63d"/>
<line x1="446.25" y1="311.58" x2="446.25" y2="312.37" stroke="#111" stroke-width="0.8"/>
<circle cx="446.25" cy="311.84" r="1.45" fill="#0d0d0d"/>
<circle cx="445.65" cy="312.9" r="1.45" fill="#0d0d0d"/>
<line x1="452" y1="308.15" x2="452" y2="309.21" stroke="#111" stroke-width="0.8"/>
<circle cx="451.4" cy="308.15" r="1.45" fill="#0d0d0d"/>
<circle cx="452.9" cy="308.94" r="1.45" fill="#0d0d0d"/>
<circle cx="451.4" cy="309.73" r="1.45" fill="#0d0d0d"/>
<line x1="449.1" y1="340.3" x2="449.1" y2="342.9" stroke="#1a1a1a" stroke-width="0.9"/>
<rect x="460.2" y="321.86" width="4.3" height="18.45" fill="#c70a33"/>
<rect x="466" y="292.87" width="4.2" height="47.43" fill="#34a63d"/>
<line x1="462.35" y1="318.69" x2="462.35" y2="321.86" stroke="#111" stroke-width="0.8"/>
<circle cx="462.35" cy="318.69" r="1.45" fill="#0d0d0d"/>
<circle cx="462.35" cy="321.33" r="1.45" fill="#0d0d0d"/>
<circle cx="462.35" cy="322.38" r="1.45" fill="#0d0d0d"/>
<line x1="468.1" y1="287.6" x2="468.1" y2="292.87" stroke="#111" stroke-width="0.8"/>
<circle cx="468.1" cy="287.6" r="1.45" fill="#0d0d0d"/>
<circle cx="468.1" cy="292.34" r="1.45" fill="#0d0d0d"/>
<circle cx="468.1" cy="297.09" r="1.45" fill="#0d0d0d"/>
<line x1="465.2" y1="340.3" x2="465.2" y2="342.9" stroke="#1a1a1a" stroke-width="0.9"/>
<rect x="476.3" y="326.07" width="4.3" height="14.23" fill="#c70a33"/>
<rect x="482.1" y="306.57" width="4.2" height="33.73" fill="#34a63d"/>
<line x1="478.45" y1="322.91" x2="478.45" y2="326.07" stroke="#111" stroke-width="0.8"/>
<circle cx="478.45" cy="322.91" r="1.45" fill="#0d0d0d"/>
<circle cx="478.45" cy="325.54" r="1.45" fill="#0d0d0d"/>
<circle cx="478.45" cy="326.6" r="1.45" fill="#0d0d0d"/>
<line x1="484.2" y1="302.88" x2="484.2" y2="306.57" stroke="#111" stroke-width="0.8"/>
<circle cx="484.2" cy="302.88" r="1.45" fill="#0d0d0d"/>
<circle cx="484.2" cy="306.05" r="1.45" fill="#0d0d0d"/>
<circle cx="484.2" cy="307.1" r="1.45" fill="#0d0d0d"/>
<line x1="481.3" y1="340.3" x2="481.3" y2="342.9" stroke="#1a1a1a" stroke-width="0.9"/>
<line x1="441.4" y1="285.2" x2="441.4" y2="340.9" stroke="#1a1a1a" stroke-width="1.1"/>
<line x1="440.9" y1="340.3" x2="488.9" y2="340.3" stroke="#1a1a1a" stroke-width="1.1"/>
<line x1="438.4" y1="340.3" x2="441.4" y2="340.3" stroke="#1a1a1a" stroke-width="0.9"/>
<text x="434.8" y="342.7" font-size="6.6" text-anchor="end" stroke="#2b2b2b" stroke-width="0.14" textLength="3.6" lengthAdjust="spacingAndGlyphs">0</text>
<line x1="438.4" y1="329.76" x2="441.4" y2="329.76" stroke="#1a1a1a" stroke-width="0.9"/>
<text x="434.8" y="332.16" font-size="6.6" text-anchor="end" stroke="#2b2b2b" stroke-width="0.14" textLength="7.2" lengthAdjust="spacingAndGlyphs">20</text>
<line x1="438.4" y1="319.22" x2="441.4" y2="319.22" stroke="#1a1a1a" stroke-width="0.9"/>
<text x="434.8" y="321.62" font-size="6.6" text-anchor="end" stroke="#2b2b2b" stroke-width="0.14" textLength="7.2" lengthAdjust="spacingAndGlyphs">40</text>
<line x1="438.4" y1="308.68" x2="441.4" y2="308.68" stroke="#1a1a1a" stroke-width="0.9"/>
<text x="434.8" y="311.08" font-size="6.6" text-anchor="end" stroke="#2b2b2b" stroke-width="0.14" textLength="7.2" lengthAdjust="spacingAndGlyphs">60</text>
<line x1="438.4" y1="298.14" x2="441.4" y2="298.14" stroke="#1a1a1a" stroke-width="0.9"/>
<text x="434.8" y="300.54" font-size="6.6" text-anchor="end" stroke="#2b2b2b" stroke-width="0.14" textLength="7.2" lengthAdjust="spacingAndGlyphs">80</text>
<line x1="438.4" y1="287.6" x2="441.4" y2="287.6" stroke="#1a1a1a" stroke-width="0.9"/>
<text x="434.8" y="290" font-size="6.6" text-anchor="end" stroke="#2b2b2b" stroke-width="0.14" textLength="10.8" lengthAdjust="spacingAndGlyphs">100</text>
<text x="448.7" y="266.7" font-size="8.4" stroke="#2b2b2b" stroke-width="0.07" textLength="32.3" lengthAdjust="spacingAndGlyphs">NK cells</text>
<line x1="444.2" y1="277.7" x2="476.2" y2="277.7" stroke="#555" stroke-width="1"/>
<text x="458.7" y="278.6" font-size="7.4" text-anchor="middle" font-weight="bold" fill="#b8234a">*</text>
<text x="461.7" y="278.6" font-size="7.4" text-anchor="middle" font-weight="bold" fill="#b8234a">*</text>
<line x1="461.5" y1="284.1" x2="469.6" y2="284.1" stroke="#555" stroke-width="1"/>
<text x="464.05" y="285" font-size="7.4" text-anchor="middle" font-weight="bold" fill="#b8234a">*</text>
<text x="467.05" y="285" font-size="7.4" text-anchor="middle" font-weight="bold" fill="#b8234a">*</text>
<line x1="443.5" y1="296.9" x2="461.2" y2="296.9" stroke="#555" stroke-width="1"/>
<text x="450.85" y="297.8" font-size="7.4" text-anchor="middle" font-weight="bold" fill="#b8234a">*</text>
<text x="453.85" y="297.8" font-size="7.4" text-anchor="middle" font-weight="bold" fill="#b8234a">*</text>
<line x1="444.2" y1="303.7" x2="452.4" y2="303.7" stroke="#555" stroke-width="1"/>
<text x="448.3" y="301.7" font-size="6.8" text-anchor="middle" fill="#333" stroke="#333" stroke-width="0.14" textLength="10.2" lengthAdjust="spacingAndGlyphs">n.s.</text>
<line x1="475.8" y1="297.3" x2="484.4" y2="297.3" stroke="#555" stroke-width="1"/>
<text x="477.1" y="298.2" font-size="7.4" text-anchor="middle" font-weight="bold" fill="#b8234a">*</text>
<text x="480.1" y="298.2" font-size="7.4" text-anchor="middle" font-weight="bold" fill="#b8234a">*</text>
<text x="483.1" y="298.2" font-size="7.4" text-anchor="middle" font-weight="bold" fill="#b8234a">*</text>
<g transform="rotate(-45 450.6 348.9)">
<text x="450.6" y="348.9" font-size="6.85" text-anchor="end" stroke="#2b2b2b" stroke-width="0.14">Pre</text>
</g>
<g transform="rotate(-45 466.7 348.9)">
<text x="466.7" y="348.9" font-size="6.85" text-anchor="end" stroke="#2b2b2b" stroke-width="0.14">Pre + Daratumumab</text>
<text x="436.57" y="356.4" font-size="6.85" text-anchor="middle" stroke="#2b2b2b" stroke-width="0.14">/B-BiTE</text>
</g>
<g transform="rotate(-45 482.8 348.9)">
<text x="482.8" y="348.9" font-size="6.85" text-anchor="end" stroke="#2b2b2b" stroke-width="0.14">72hr</text>
</g>
<text x="263.7" y="313.2" font-size="8.8" text-anchor="middle" stroke="#2b2b2b" stroke-width="0.07" textLength="66" lengthAdjust="spacingAndGlyphs" transform="rotate(-90 263.7 313.2)">IFN-γ production (%)</text>
<rect x="350.8" y="404.9" width="6.8" height="3.2" fill="#c70a33"/>
<text x="361" y="408.9" font-size="6.9" stroke="#2b2b2b" stroke-width="0.14" textLength="15" lengthAdjust="spacingAndGlyphs">K562</text>
<rect x="380.2" y="404.9" width="6.8" height="3.2" fill="#34a63d"/>
<text x="390.4" y="408.9" font-size="6.9" stroke="#2b2b2b" stroke-width="0.14" textLength="35" lengthAdjust="spacingAndGlyphs">K562/CD38</text>
<line x1="77.3" y1="310.9" x2="242" y2="310.9" stroke="#3a3a3a" stroke-width="1.3"/>
<path d="M241.2,308.8 L245.8,310.9 L241.2,313.0 Z" fill="#111"/>
<line x1="77.3" y1="291.6" x2="77.3" y2="299.6" stroke="#111" stroke-width="1.1"/>
<path d="M75.1,299.1 L79.5,299.1 L77.3,304.3 Z" fill="#111"/>
<line x1="133.7" y1="291.6" x2="133.7" y2="299.6" stroke="#111" stroke-width="1.1"/>
<path d="M131.5,299.1 L135.9,299.1 L133.7,304.3 Z" fill="#111"/>
<line x1="77.3" y1="307.2" x2="77.3" y2="314.6" stroke="#222" stroke-width="1.2"/>
<line x1="133.7" y1="307.5" x2="133.7" y2="314.5" stroke="#222" stroke-width="1.2"/>
<line x1="119.8" y1="311.3" x2="119.8" y2="319.4" stroke="#111" stroke-width="1.1"/>
<path d="M117.6,318.9 L122,318.9 L119.8,324.1 Z" fill="#111"/>
<line x1="148.1" y1="311.3" x2="148.1" y2="319.4" stroke="#111" stroke-width="1.1"/>
<path d="M145.9,318.9 L150.3,318.9 L148.1,324.1 Z" fill="#111"/>
<line x1="164.3" y1="311.3" x2="164.3" y2="319.4" stroke="#111" stroke-width="1.1"/>
<path d="M162.1,318.9 L166.5,318.9 L164.3,324.1 Z" fill="#111"/>
<line x1="185.9" y1="311.3" x2="185.9" y2="319.4" stroke="#111" stroke-width="1.1"/>
<path d="M183.7,318.9 L188.1,318.9 L185.9,324.1 Z" fill="#111"/>
<line x1="210.2" y1="311.3" x2="210.2" y2="319.4" stroke="#111" stroke-width="1.1"/>
<path d="M208,318.9 L212.4,318.9 L210.2,324.1 Z" fill="#111"/>
<line x1="236.7" y1="311.3" x2="236.7" y2="319.4" stroke="#111" stroke-width="1.1"/>
<path d="M234.5,318.9 L238.9,318.9 L236.7,324.1 Z" fill="#111"/>
<text x="76.2" y="279.4" font-size="7" stroke="#2b2b2b" stroke-width="0.14" textLength="21.5" lengthAdjust="spacingAndGlyphs">Poly-Ig</text>
<text x="76.2" y="286.4" font-size="7" stroke="#2b2b2b" stroke-width="0.14" textLength="28" lengthAdjust="spacingAndGlyphs">40mg i.v.</text>
<text x="132.8" y="287.8" font-size="7" stroke="#2b2b2b" stroke-width="0.14" textLength="76.6" lengthAdjust="spacingAndGlyphs">Daratumumab/B-BiTE i.v.</text>
<text x="68.7" y="324" font-size="7" stroke="#2b2b2b" stroke-width="0.14" textLength="17" lengthAdjust="spacingAndGlyphs">Day 0</text>
<text x="125.8" y="323.8" font-size="7" stroke="#2b2b2b" stroke-width="0.14" textLength="16.3" lengthAdjust="spacingAndGlyphs">Day 1</text>
<text x="99.6" y="331.2" font-size="7" text-anchor="middle" stroke="#2b2b2b" stroke-width="0.14" textLength="19.5" lengthAdjust="spacingAndGlyphs">Serum</text>
<text x="99.6" y="338.7" font-size="7" text-anchor="middle" stroke="#2b2b2b" stroke-width="0.14" textLength="28.4" lengthAdjust="spacingAndGlyphs">collection</text>
<text x="119.9" y="347.4" font-size="7" text-anchor="middle" stroke="#2b2b2b" stroke-width="0.14" textLength="9.6" lengthAdjust="spacingAndGlyphs">Pre</text>
<path d="M118.2,327.9 h3.4 v6.6 l-1.7,2.4 l-1.7,-2.4 Z" fill="#eeeeee" stroke="#a9a9a9" stroke-width="0.6"/>
<line x1="117.6" y1="327.4" x2="122.2" y2="327.4" stroke="#9a9a9a" stroke-width="0.9"/>
<line x1="119.9" y1="328.6" x2="119.9" y2="334" stroke="#d6d6d6" stroke-width="0.6"/>
<circle cx="119.9" cy="336.9" r="1.4" fill="#f6dde2"/>
<circle cx="119.9" cy="336.9" r="0.7" fill="#a82a44"/>
<text x="148.1" y="347.4" font-size="7" text-anchor="middle" stroke="#2b2b2b" stroke-width="0.14" textLength="9.6" lengthAdjust="spacingAndGlyphs">6hr</text>
<path d="M146.4,327.9 h3.4 v6.6 l-1.7,2.4 l-1.7,-2.4 Z" fill="#eeeeee" stroke="#a9a9a9" stroke-width="0.6"/>
<line x1="145.8" y1="327.4" x2="150.4" y2="327.4" stroke="#9a9a9a" stroke-width="0.9"/>
<line x1="148.1" y1="328.6" x2="148.1" y2="334" stroke="#d6d6d6" stroke-width="0.6"/>
<circle cx="148.1" cy="336.9" r="1.4" fill="#f6dde2"/>
<circle cx="148.1" cy="336.9" r="0.7" fill="#a82a44"/>
<text x="164.3" y="347.4" font-size="7" text-anchor="middle" stroke="#2b2b2b" stroke-width="0.14" textLength="13" lengthAdjust="spacingAndGlyphs">12hr</text>
<path d="M162.6,327.9 h3.4 v6.6 l-1.7,2.4 l-1.7,-2.4 Z" fill="#eeeeee" stroke="#a9a9a9" stroke-width="0.6"/>
<line x1="162" y1="327.4" x2="166.6" y2="327.4" stroke="#9a9a9a" stroke-width="0.9"/>
<line x1="164.3" y1="328.6" x2="164.3" y2="334" stroke="#d6d6d6" stroke-width="0.6"/>
<circle cx="164.3" cy="336.9" r="1.4" fill="#f6dde2"/>
<circle cx="164.3" cy="336.9" r="0.7" fill="#a82a44"/>
<text x="185.9" y="347.4" font-size="7" text-anchor="middle" stroke="#2b2b2b" stroke-width="0.14" textLength="13" lengthAdjust="spacingAndGlyphs">24hr</text>
<path d="M184.2,327.9 h3.4 v6.6 l-1.7,2.4 l-1.7,-2.4 Z" fill="#eeeeee" stroke="#a9a9a9" stroke-width="0.6"/>
<line x1="183.6" y1="327.4" x2="188.2" y2="327.4" stroke="#9a9a9a" stroke-width="0.9"/>
<line x1="185.9" y1="328.6" x2="185.9" y2="334" stroke="#d6d6d6" stroke-width="0.6"/>
<circle cx="185.9" cy="336.9" r="1.4" fill="#f6dde2"/>
<circle cx="185.9" cy="336.9" r="0.7" fill="#a82a44"/>
<text x="210.2" y="347.4" font-size="7" text-anchor="middle" stroke="#2b2b2b" stroke-width="0.14" textLength="13" lengthAdjust="spacingAndGlyphs">48hr</text>
<path d="M208.5,327.9 h3.4 v6.6 l-1.7,2.4 l-1.7,-2.4 Z" fill="#eeeeee" stroke="#a9a9a9" stroke-width="0.6"/>
<line x1="207.9" y1="327.4" x2="212.5" y2="327.4" stroke="#9a9a9a" stroke-width="0.9"/>
<line x1="210.2" y1="328.6" x2="210.2" y2="334" stroke="#d6d6d6" stroke-width="0.6"/>
<circle cx="210.2" cy="336.9" r="1.4" fill="#f6dde2"/>
<circle cx="210.2" cy="336.9" r="0.7" fill="#a82a44"/>
<text x="236.7" y="347.4" font-size="7" text-anchor="middle" stroke="#2b2b2b" stroke-width="0.14" textLength="13" lengthAdjust="spacingAndGlyphs">72hr</text>
<path d="M235,327.9 h3.4 v6.6 l-1.7,2.4 l-1.7,-2.4 Z" fill="#eeeeee" stroke="#a9a9a9" stroke-width="0.6"/>
<line x1="234.4" y1="327.4" x2="239" y2="327.4" stroke="#9a9a9a" stroke-width="0.9"/>
<line x1="236.7" y1="328.6" x2="236.7" y2="334" stroke="#d6d6d6" stroke-width="0.6"/>
<circle cx="236.7" cy="336.9" r="1.4" fill="#f6dde2"/>
<circle cx="236.7" cy="336.9" r="0.7" fill="#a82a44"/>
<g transform="translate(51.2 301.7) rotate(-45)"><line x1="0" y1="0" x2="4.4" y2="0" stroke="#555" stroke-width="0.7"/><rect x="4.1" y="-1.8" width="15.2" height="3.6" fill="#111"/><rect x="18.6" y="-3.7" width="1.5" height="7.4" fill="#111"/><rect x="19.8" y="-1.2" width="4.8" height="2.4" fill="#111"/><path d="M24.2,-1.2 L24.6,-2.6 L26.8,-2.6 L26.8,2.6 L24.6,2.6 L24.2,1.2 Z" fill="#111"/></g>
<g fill="#fff" stroke="#7d7d7d" stroke-width="0.85" stroke-linecap="round" stroke-linejoin="round"><path d="M40.2,309.2 C35.6,307.6 32.6,310.6 33.2,314.8 C33.8,319.2 40.5,322.2 52.2,322.6" fill="none"/><path d="M40.4,310.6 C36.6,309.6 34.4,312.2 34.9,315.0 C35.6,318.6 41,320.9 51.8,321.5" fill="none" stroke="#b0b0b0" stroke-width="0.5"/><path d="M41.2,315.4 C39.2,313.6 38.8,310.4 40.2,308.2 C42.2,305.2 47,303.6 52.4,303.8 C55.6,303.9 58,304.6 59.4,305.6 C61.6,306.4 64.6,308.8 66.9,311.2 C65.6,312.4 63.4,312.9 61.4,313.2 C60.6,314.2 59.6,315 58.6,315.4 C55,316.4 51,316.6 47.5,316.2 C45.2,316 43,315.9 41.2,315.4 Z"/><path d="M58.4,306.6 C58.2,304.8 59.4,303.2 60.4,303.4 C61.4,303.8 61.5,305.6 60.8,307.4" /></g><g fill="none" stroke="#7d7d7d" stroke-width="0.6" stroke-linecap="round"><path d="M55.2,315.9 L54.4,317.6"/><path d="M60.2,314.4 L60.4,316"/><path d="M41.6,314.8 L41.2,316.6"/><path d="M58.6,310.5 C58.9,312 59.8,313.2 61,313.4"/></g><circle cx="62.5" cy="309.9" r="0.6" fill="#444"/><circle cx="66.6" cy="311.1" r="0.45" fill="#666"/><circle cx="41.3" cy="316.6" r="0.75" fill="#2a2a2a"/><circle cx="54.3" cy="317.6" r="0.75" fill="#2a2a2a"/><circle cx="60.1" cy="316.0" r="0.7" fill="#2a2a2a"/>
<line x1="77.1" y1="433.1" x2="77.1" y2="512.8" stroke="#1a1a1a" stroke-width="1.1"/>
<line x1="76.6" y1="512.2" x2="191.9" y2="512.2" stroke="#1a1a1a" stroke-width="1.1"/>
<line x1="73.9" y1="512.2" x2="77.1" y2="512.2" stroke="#1a1a1a" stroke-width="0.9"/>
<text x="70.9" y="514.8" font-size="7.2" text-anchor="end" stroke="#2b2b2b" stroke-width="0.14" textLength="3.57" lengthAdjust="spacingAndGlyphs">0</text>
<line x1="73.9" y1="497.02" x2="77.1" y2="497.02" stroke="#1a1a1a" stroke-width="0.9"/>
<text x="70.9" y="499.62" font-size="7.2" text-anchor="end" stroke="#2b2b2b" stroke-width="0.14" textLength="7.14" lengthAdjust="spacingAndGlyphs">20</text>
<line x1="73.9" y1="481.84" x2="77.1" y2="481.84" stroke="#1a1a1a" stroke-width="0.9"/>
<text x="70.9" y="484.44" font-size="7.2" text-anchor="end" stroke="#2b2b2b" stroke-width="0.14" textLength="7.14" lengthAdjust="spacingAndGlyphs">40</text>
<line x1="73.9" y1="466.66" x2="77.1" y2="466.66" stroke="#1a1a1a" stroke-width="0.9"/>
<text x="70.9" y="469.26" font-size="7.2" text-anchor="end" stroke="#2b2b2b" stroke-width="0.14" textLength="7.14" lengthAdjust="spacingAndGlyphs">60</text>
<line x1="73.9" y1="451.48" x2="77.1" y2="451.48" stroke="#1a1a1a" stroke-width="0.9"/>
<text x="70.9" y="454.08" font-size="7.2" text-anchor="end" stroke="#2b2b2b" stroke-width="0.14" textLength="7.14" lengthAdjust="spacingAndGlyphs">80</text>
<line x1="73.9" y1="436.3" x2="77.1" y2="436.3" stroke="#1a1a1a" stroke-width="0.9"/>
<text x="70.9" y="438.9" font-size="7.2" text-anchor="end" stroke="#2b2b2b" stroke-width="0.14" textLength="10.71" lengthAdjust="spacingAndGlyphs">100</text>
<line x1="80.1" y1="512.2" x2="80.1" y2="515" stroke="#1a1a1a" stroke-width="0.9"/>
<text x="80.1" y="525.2" font-size="7.2" text-anchor="middle" stroke="#2b2b2b" stroke-width="0.14" textLength="3.75" lengthAdjust="spacingAndGlyphs">0</text>
<line x1="88.46" y1="512.2" x2="88.46" y2="515" stroke="#1a1a1a" stroke-width="0.9"/>
<text x="88.46" y="525.2" font-size="7.2" text-anchor="middle" stroke="#2b2b2b" stroke-width="0.14" textLength="3.75" lengthAdjust="spacingAndGlyphs">6</text>
<line x1="96.83" y1="512.2" x2="96.83" y2="515" stroke="#1a1a1a" stroke-width="0.9"/>
<text x="96.83" y="525.2" font-size="7.2" text-anchor="middle" stroke="#2b2b2b" stroke-width="0.14" textLength="7.5" lengthAdjust="spacingAndGlyphs">12</text>
<line x1="113.56" y1="512.2" x2="113.56" y2="515" stroke="#1a1a1a" stroke-width="0.9"/>
<text x="113.56" y="525.2" font-size="7.2" text-anchor="middle" stroke="#2b2b2b" stroke-width="0.14" textLength="7.5" lengthAdjust="spacingAndGlyphs">24</text>
<line x1="147.01" y1="512.2" x2="147.01" y2="515" stroke="#1a1a1a" stroke-width="0.9"/>
<text x="147.01" y="525.2" font-size="7.2" text-anchor="middle" stroke="#2b2b2b" stroke-width="0.14" textLength="7.5" lengthAdjust="spacingAndGlyphs">48</text>
<line x1="180.47" y1="512.2" x2="180.47" y2="515" stroke="#1a1a1a" stroke-width="0.9"/>
<text x="180.47" y="525.2" font-size="7.2" text-anchor="middle" stroke="#2b2b2b" stroke-width="0.14" textLength="7.5" lengthAdjust="spacingAndGlyphs">72</text>
<text x="100.6" y="537.3" font-size="8.8" stroke="#2b2b2b" stroke-width="0.07" textLength="67.2" lengthAdjust="spacingAndGlyphs">Hours after treatment</text>
<text x="109.5" y="426.9" font-size="9" stroke="#2b2b2b" stroke-width="0.07" textLength="17.43" lengthAdjust="spacingAndGlyphs">CD8</text>
<text x="130.42" y="423.3" font-size="5.94" text-anchor="middle" font-weight="bold">+</text>
<text x="134.65" y="426.9" font-size="9" stroke="#2b2b2b" stroke-width="0.07" textLength="24.65" lengthAdjust="spacingAndGlyphs">T cells</text>
<polyline points="80.1,461.35 88.46,446.17 96.83,459.07 113.56,464.38 147.01,474.25 180.47,475.77" fill="none" stroke="#36a341" stroke-width="1" stroke-linejoin="round"/>
<line x1="80.1" y1="448.44" x2="80.1" y2="474.25" stroke="#4aad52" stroke-width="0.9"/>
<line x1="78.6" y1="448.44" x2="81.6" y2="448.44" stroke="#4aad52" stroke-width="0.9"/>
<line x1="78.6" y1="474.25" x2="81.6" y2="474.25" stroke="#4aad52" stroke-width="0.9"/>
<circle cx="80.1" cy="461.35" r="1.75" fill="#36a341"/>
<line x1="88.46" y1="437.82" x2="88.46" y2="454.52" stroke="#4aad52" stroke-width="0.9"/>
<line x1="86.96" y1="437.82" x2="89.96" y2="437.82" stroke="#4aad52" stroke-width="0.9"/>
<line x1="86.96" y1="454.52" x2="89.96" y2="454.52" stroke="#4aad52" stroke-width="0.9"/>
<circle cx="88.46" cy="446.17" r="1.75" fill="#36a341"/>
<line x1="96.83" y1="449.2" x2="96.83" y2="468.18" stroke="#4aad52" stroke-width="0.9"/>
<line x1="95.33" y1="449.2" x2="98.33" y2="449.2" stroke="#4aad52" stroke-width="0.9"/>
<line x1="95.33" y1="468.18" x2="98.33" y2="468.18" stroke="#4aad52" stroke-width="0.9"/>
<circle cx="96.83" cy="459.07" r="1.75" fill="#36a341"/>
<line x1="113.56" y1="449.2" x2="113.56" y2="478.8" stroke="#4aad52" stroke-width="0.9"/>
<line x1="112.06" y1="449.2" x2="115.06" y2="449.2" stroke="#4aad52" stroke-width="0.9"/>
<line x1="112.06" y1="478.8" x2="115.06" y2="478.8" stroke="#4aad52" stroke-width="0.9"/>
<circle cx="113.56" cy="464.38" r="1.75" fill="#36a341"/>
<line x1="147.01" y1="465.9" x2="147.01" y2="481.84" stroke="#4aad52" stroke-width="0.9"/>
<line x1="145.51" y1="465.9" x2="148.51" y2="465.9" stroke="#4aad52" stroke-width="0.9"/>
<line x1="145.51" y1="481.84" x2="148.51" y2="481.84" stroke="#4aad52" stroke-width="0.9"/>
<circle cx="147.01" cy="474.25" r="1.75" fill="#36a341"/>
<line x1="180.47" y1="471.97" x2="180.47" y2="478.05" stroke="#4aad52" stroke-width="0.9"/>
<line x1="178.97" y1="471.97" x2="181.97" y2="471.97" stroke="#4aad52" stroke-width="0.9"/>
<line x1="178.97" y1="478.05" x2="181.97" y2="478.05" stroke="#4aad52" stroke-width="0.9"/>
<circle cx="180.47" cy="475.77" r="1.75" fill="#36a341"/>
<polyline points="80.1,500.06 88.46,494.74 96.83,498.54 113.56,499.3 147.01,497.02 180.47,496.26" fill="none" stroke="#c0103c" stroke-width="1" stroke-linejoin="round"/>
<line x1="80.1" y1="496.26" x2="80.1" y2="503.09" stroke="#c8284d" stroke-width="0.9"/>
<line x1="78.6" y1="496.26" x2="81.6" y2="496.26" stroke="#c8284d" stroke-width="0.9"/>
<line x1="78.6" y1="503.09" x2="81.6" y2="503.09" stroke="#c8284d" stroke-width="0.9"/>
<circle cx="80.1" cy="500.06" r="1.75" fill="#c0103c"/>
<line x1="88.46" y1="487.15" x2="88.46" y2="502.33" stroke="#c8284d" stroke-width="0.9"/>
<line x1="86.96" y1="487.15" x2="89.96" y2="487.15" stroke="#c8284d" stroke-width="0.9"/>
<line x1="86.96" y1="502.33" x2="89.96" y2="502.33" stroke="#c8284d" stroke-width="0.9"/>
<circle cx="88.46" cy="494.74" r="1.75" fill="#c0103c"/>
<line x1="96.83" y1="493.98" x2="96.83" y2="502.33" stroke="#c8284d" stroke-width="0.9"/>
<line x1="95.33" y1="493.98" x2="98.33" y2="493.98" stroke="#c8284d" stroke-width="0.9"/>
<line x1="95.33" y1="502.33" x2="98.33" y2="502.33" stroke="#c8284d" stroke-width="0.9"/>
<circle cx="96.83" cy="498.54" r="1.75" fill="#c0103c"/>
<circle cx="113.56" cy="499.3" r="1.75" fill="#c0103c"/>
<line x1="147.01" y1="491.71" x2="147.01" y2="500.82" stroke="#c8284d" stroke-width="0.9"/>
<line x1="145.51" y1="491.71" x2="148.51" y2="491.71" stroke="#c8284d" stroke-width="0.9"/>
<line x1="145.51" y1="500.82" x2="148.51" y2="500.82" stroke="#c8284d" stroke-width="0.9"/>
<circle cx="147.01" cy="497.02" r="1.75" fill="#c0103c"/>
<line x1="180.47" y1="492.47" x2="180.47" y2="500.06" stroke="#c8284d" stroke-width="0.9"/>
<line x1="178.97" y1="492.47" x2="181.97" y2="492.47" stroke="#c8284d" stroke-width="0.9"/>
<line x1="178.97" y1="500.06" x2="181.97" y2="500.06" stroke="#c8284d" stroke-width="0.9"/>
<circle cx="180.47" cy="496.26" r="1.75" fill="#c0103c"/>
<line x1="219" y1="433.1" x2="219" y2="512.8" stroke="#1a1a1a" stroke-width="1.1"/>
<line x1="218.5" y1="512.2" x2="333.8" y2="512.2" stroke="#1a1a1a" stroke-width="1.1"/>
<line x1="215.8" y1="512.2" x2="219" y2="512.2" stroke="#1a1a1a" stroke-width="0.9"/>
<text x="212.8" y="514.8" font-size="7.2" text-anchor="end" stroke="#2b2b2b" stroke-width="0.14" textLength="3.57" lengthAdjust="spacingAndGlyphs">0</text>
<line x1="215.8" y1="497.02" x2="219" y2="497.02" stroke="#1a1a1a" stroke-width="0.9"/>
<text x="212.8" y="499.62" font-size="7.2" text-anchor="end" stroke="#2b2b2b" stroke-width="0.14" textLength="7.14" lengthAdjust="spacingAndGlyphs">20</text>
<line x1="215.8" y1="481.84" x2="219" y2="481.84" stroke="#1a1a1a" stroke-width="0.9"/>
<text x="212.8" y="484.44" font-size="7.2" text-anchor="end" stroke="#2b2b2b" stroke-width="0.14" textLength="7.14" lengthAdjust="spacingAndGlyphs">40</text>
<line x1="215.8" y1="466.66" x2="219" y2="466.66" stroke="#1a1a1a" stroke-width="0.9"/>
<text x="212.8" y="469.26" font-size="7.2" text-anchor="end" stroke="#2b2b2b" stroke-width="0.14" textLength="7.14" lengthAdjust="spacingAndGlyphs">60</text>
<line x1="215.8" y1="451.48" x2="219" y2="451.48" stroke="#1a1a1a" stroke-width="0.9"/>
<text x="212.8" y="454.08" font-size="7.2" text-anchor="end" stroke="#2b2b2b" stroke-width="0.14" textLength="7.14" lengthAdjust="spacingAndGlyphs">80</text>
<line x1="215.8" y1="436.3" x2="219" y2="436.3" stroke="#1a1a1a" stroke-width="0.9"/>
<text x="212.8" y="438.9" font-size="7.2" text-anchor="end" stroke="#2b2b2b" stroke-width="0.14" textLength="10.71" lengthAdjust="spacingAndGlyphs">100</text>
<line x1="222" y1="512.2" x2="222" y2="515" stroke="#1a1a1a" stroke-width="0.9"/>
<text x="222" y="525.2" font-size="7.2" text-anchor="middle" stroke="#2b2b2b" stroke-width="0.14" textLength="3.75" lengthAdjust="spacingAndGlyphs">0</text>
<line x1="230.36" y1="512.2" x2="230.36" y2="515" stroke="#1a1a1a" stroke-width="0.9"/>
<text x="230.36" y="525.2" font-size="7.2" text-anchor="middle" stroke="#2b2b2b" stroke-width="0.14" textLength="3.75" lengthAdjust="spacingAndGlyphs">6</text>
<line x1="238.73" y1="512.2" x2="238.73" y2="515" stroke="#1a1a1a" stroke-width="0.9"/>
<text x="238.73" y="525.2" font-size="7.2" text-anchor="middle" stroke="#2b2b2b" stroke-width="0.14" textLength="7.5" lengthAdjust="spacingAndGlyphs">12</text>
<line x1="255.46" y1="512.2" x2="255.46" y2="515" stroke="#1a1a1a" stroke-width="0.9"/>
<text x="255.46" y="525.2" font-size="7.2" text-anchor="middle" stroke="#2b2b2b" stroke-width="0.14" textLength="7.5" lengthAdjust="spacingAndGlyphs">24</text>
<line x1="288.91" y1="512.2" x2="288.91" y2="515" stroke="#1a1a1a" stroke-width="0.9"/>
<text x="288.91" y="525.2" font-size="7.2" text-anchor="middle" stroke="#2b2b2b" stroke-width="0.14" textLength="7.5" lengthAdjust="spacingAndGlyphs">48</text>
<line x1="322.37" y1="512.2" x2="322.37" y2="515" stroke="#1a1a1a" stroke-width="0.9"/>
<text x="322.37" y="525.2" font-size="7.2" text-anchor="middle" stroke="#2b2b2b" stroke-width="0.14" textLength="7.5" lengthAdjust="spacingAndGlyphs">72</text>
<text x="242.5" y="537.3" font-size="8.8" stroke="#2b2b2b" stroke-width="0.07" textLength="67.2" lengthAdjust="spacingAndGlyphs">Hours after treatment</text>
<text x="251.4" y="426.9" font-size="9" stroke="#2b2b2b" stroke-width="0.07" textLength="17.43" lengthAdjust="spacingAndGlyphs">CD4</text>
<text x="272.32" y="423.3" font-size="5.94" text-anchor="middle" font-weight="bold">+</text>
<text x="276.55" y="426.9" font-size="9" stroke="#2b2b2b" stroke-width="0.07" textLength="24.65" lengthAdjust="spacingAndGlyphs">T cells</text>
<polyline points="222,444.65 230.36,451.48 238.73,465.14 255.46,475.77 288.91,490.95 322.37,497.02" fill="none" stroke="#36a341" stroke-width="1" stroke-linejoin="round"/>
<line x1="222" y1="435.54" x2="222" y2="453.76" stroke="#4aad52" stroke-width="0.9"/>
<line x1="220.5" y1="435.54" x2="223.5" y2="435.54" stroke="#4aad52" stroke-width="0.9"/>
<line x1="220.5" y1="453.76" x2="223.5" y2="453.76" stroke="#4aad52" stroke-width="0.9"/>
<circle cx="222" cy="444.65" r="1.75" fill="#36a341"/>
<line x1="230.36" y1="443.89" x2="230.36" y2="459.83" stroke="#4aad52" stroke-width="0.9"/>
<line x1="228.86" y1="443.89" x2="231.86" y2="443.89" stroke="#4aad52" stroke-width="0.9"/>
<line x1="228.86" y1="459.83" x2="231.86" y2="459.83" stroke="#4aad52" stroke-width="0.9"/>
<circle cx="230.36" cy="451.48" r="1.75" fill="#36a341"/>
<line x1="238.73" y1="460.59" x2="238.73" y2="468.94" stroke="#4aad52" stroke-width="0.9"/>
<line x1="237.23" y1="460.59" x2="240.23" y2="460.59" stroke="#4aad52" stroke-width="0.9"/>
<line x1="237.23" y1="468.94" x2="240.23" y2="468.94" stroke="#4aad52" stroke-width="0.9"/>
<circle cx="238.73" cy="465.14" r="1.75" fill="#36a341"/>
<line x1="255.46" y1="465.9" x2="255.46" y2="484.12" stroke="#4aad52" stroke-width="0.9"/>
<line x1="253.96" y1="465.9" x2="256.96" y2="465.9" stroke="#4aad52" stroke-width="0.9"/>
<line x1="253.96" y1="484.12" x2="256.96" y2="484.12" stroke="#4aad52" stroke-width="0.9"/>
<circle cx="255.46" cy="475.77" r="1.75" fill="#36a341"/>
<circle cx="288.91" cy="490.95" r="1.75" fill="#36a341"/>
<line x1="322.37" y1="494.74" x2="322.37" y2="499.3" stroke="#4aad52" stroke-width="0.9"/>
<line x1="320.87" y1="494.74" x2="323.87" y2="494.74" stroke="#4aad52" stroke-width="0.9"/>
<line x1="320.87" y1="499.3" x2="323.87" y2="499.3" stroke="#4aad52" stroke-width="0.9"/>
<circle cx="322.37" cy="497.02" r="1.75" fill="#36a341"/>
<polyline points="222,500.06 230.36,498.54 238.73,503.09 255.46,502.33 288.91,500.82 322.37,503.09" fill="none" stroke="#c0103c" stroke-width="1" stroke-linejoin="round"/>
<circle cx="222" cy="500.06" r="1.75" fill="#c0103c"/>
<line x1="230.36" y1="490.95" x2="230.36" y2="506.13" stroke="#c8284d" stroke-width="0.9"/>
<line x1="228.86" y1="490.95" x2="231.86" y2="490.95" stroke="#c8284d" stroke-width="0.9"/>
<line x1="228.86" y1="506.13" x2="231.86" y2="506.13" stroke="#c8284d" stroke-width="0.9"/>
<circle cx="230.36" cy="498.54" r="1.75" fill="#c0103c"/>
<line x1="238.73" y1="500.82" x2="238.73" y2="505.37" stroke="#c8284d" stroke-width="0.9"/>
<line x1="237.23" y1="500.82" x2="240.23" y2="500.82" stroke="#c8284d" stroke-width="0.9"/>
<line x1="237.23" y1="505.37" x2="240.23" y2="505.37" stroke="#c8284d" stroke-width="0.9"/>
<circle cx="238.73" cy="503.09" r="1.75" fill="#c0103c"/>
<line x1="255.46" y1="499.3" x2="255.46" y2="504.61" stroke="#c8284d" stroke-width="0.9"/>
<line x1="253.96" y1="499.3" x2="256.96" y2="499.3" stroke="#c8284d" stroke-width="0.9"/>
<line x1="253.96" y1="504.61" x2="256.96" y2="504.61" stroke="#c8284d" stroke-width="0.9"/>
<circle cx="255.46" cy="502.33" r="1.75" fill="#c0103c"/>
<line x1="288.91" y1="495.5" x2="288.91" y2="505.37" stroke="#c8284d" stroke-width="0.9"/>
<line x1="287.41" y1="495.5" x2="290.41" y2="495.5" stroke="#c8284d" stroke-width="0.9"/>
<line x1="287.41" y1="505.37" x2="290.41" y2="505.37" stroke="#c8284d" stroke-width="0.9"/>
<circle cx="288.91" cy="500.82" r="1.75" fill="#c0103c"/>
<circle cx="322.37" cy="503.09" r="1.75" fill="#c0103c"/>
<line x1="360.8" y1="433.1" x2="360.8" y2="512.8" stroke="#1a1a1a" stroke-width="1.1"/>
<line x1="360.3" y1="512.2" x2="475.6" y2="512.2" stroke="#1a1a1a" stroke-width="1.1"/>
<line x1="357.6" y1="512.2" x2="360.8" y2="512.2" stroke="#1a1a1a" stroke-width="0.9"/>
<text x="354.6" y="514.8" font-size="7.2" text-anchor="end" stroke="#2b2b2b" stroke-width="0.14" textLength="3.57" lengthAdjust="spacingAndGlyphs">0</text>
<line x1="357.6" y1="497.02" x2="360.8" y2="497.02" stroke="#1a1a1a" stroke-width="0.9"/>
<text x="354.6" y="499.62" font-size="7.2" text-anchor="end" stroke="#2b2b2b" stroke-width="0.14" textLength="7.14" lengthAdjust="spacingAndGlyphs">20</text>
<line x1="357.6" y1="481.84" x2="360.8" y2="481.84" stroke="#1a1a1a" stroke-width="0.9"/>
<text x="354.6" y="484.44" font-size="7.2" text-anchor="end" stroke="#2b2b2b" stroke-width="0.14" textLength="7.14" lengthAdjust="spacingAndGlyphs">40</text>
<line x1="357.6" y1="466.66" x2="360.8" y2="466.66" stroke="#1a1a1a" stroke-width="0.9"/>
<text x="354.6" y="469.26" font-size="7.2" text-anchor="end" stroke="#2b2b2b" stroke-width="0.14" textLength="7.14" lengthAdjust="spacingAndGlyphs">60</text>
<line x1="357.6" y1="451.48" x2="360.8" y2="451.48" stroke="#1a1a1a" stroke-width="0.9"/>
<text x="354.6" y="454.08" font-size="7.2" text-anchor="end" stroke="#2b2b2b" stroke-width="0.14" textLength="7.14" lengthAdjust="spacingAndGlyphs">80</text>
<line x1="357.6" y1="436.3" x2="360.8" y2="436.3" stroke="#1a1a1a" stroke-width="0.9"/>
<text x="354.6" y="438.9" font-size="7.2" text-anchor="end" stroke="#2b2b2b" stroke-width="0.14" textLength="10.71" lengthAdjust="spacingAndGlyphs">100</text>
<line x1="363.8" y1="512.2" x2="363.8" y2="515" stroke="#1a1a1a" stroke-width="0.9"/>
<text x="363.8" y="525.2" font-size="7.2" text-anchor="middle" stroke="#2b2b2b" stroke-width="0.14" textLength="3.75" lengthAdjust="spacingAndGlyphs">0</text>
<line x1="372.16" y1="512.2" x2="372.16" y2="515" stroke="#1a1a1a" stroke-width="0.9"/>
<text x="372.16" y="525.2" font-size="7.2" text-anchor="middle" stroke="#2b2b2b" stroke-width="0.14" textLength="3.75" lengthAdjust="spacingAndGlyphs">6</text>
<line x1="380.53" y1="512.2" x2="380.53" y2="515" stroke="#1a1a1a" stroke-width="0.9"/>
<text x="380.53" y="525.2" font-size="7.2" text-anchor="middle" stroke="#2b2b2b" stroke-width="0.14" textLength="7.5" lengthAdjust="spacingAndGlyphs">12</text>
<line x1="397.26" y1="512.2" x2="397.26" y2="515" stroke="#1a1a1a" stroke-width="0.9"/>
<text x="397.26" y="525.2" font-size="7.2" text-anchor="middle" stroke="#2b2b2b" stroke-width="0.14" textLength="7.5" lengthAdjust="spacingAndGlyphs">24</text>
<line x1="430.71" y1="512.2" x2="430.71" y2="515" stroke="#1a1a1a" stroke-width="0.9"/>
<text x="430.71" y="525.2" font-size="7.2" text-anchor="middle" stroke="#2b2b2b" stroke-width="0.14" textLength="7.5" lengthAdjust="spacingAndGlyphs">48</text>
<line x1="464.17" y1="512.2" x2="464.17" y2="515" stroke="#1a1a1a" stroke-width="0.9"/>
<text x="464.17" y="525.2" font-size="7.2" text-anchor="middle" stroke="#2b2b2b" stroke-width="0.14" textLength="7.5" lengthAdjust="spacingAndGlyphs">72</text>
<text x="384.3" y="537.3" font-size="8.8" stroke="#2b2b2b" stroke-width="0.07" textLength="67.2" lengthAdjust="spacingAndGlyphs">Hours after treatment</text>
<text x="402" y="426.9" font-size="9" stroke="#2b2b2b" stroke-width="0.07" textLength="32.7" lengthAdjust="spacingAndGlyphs">NK cells</text>
<polyline points="363.8,443.13 372.16,440.85 380.53,452.24 397.26,458.31 430.71,465.14 464.17,462.11" fill="none" stroke="#36a341" stroke-width="1" stroke-linejoin="round"/>
<line x1="363.8" y1="435.54" x2="363.8" y2="450.72" stroke="#4aad52" stroke-width="0.9"/>
<line x1="362.3" y1="435.54" x2="365.3" y2="435.54" stroke="#4aad52" stroke-width="0.9"/>
<line x1="362.3" y1="450.72" x2="365.3" y2="450.72" stroke="#4aad52" stroke-width="0.9"/>
<circle cx="363.8" cy="443.13" r="1.75" fill="#36a341"/>
<line x1="372.16" y1="437.06" x2="372.16" y2="444.65" stroke="#4aad52" stroke-width="0.9"/>
<line x1="370.66" y1="437.06" x2="373.66" y2="437.06" stroke="#4aad52" stroke-width="0.9"/>
<line x1="370.66" y1="444.65" x2="373.66" y2="444.65" stroke="#4aad52" stroke-width="0.9"/>
<circle cx="372.16" cy="440.85" r="1.75" fill="#36a341"/>
<line x1="380.53" y1="443.89" x2="380.53" y2="459.83" stroke="#4aad52" stroke-width="0.9"/>
<line x1="379.03" y1="443.89" x2="382.03" y2="443.89" stroke="#4aad52" stroke-width="0.9"/>
<line x1="379.03" y1="459.83" x2="382.03" y2="459.83" stroke="#4aad52" stroke-width="0.9"/>
<circle cx="380.53" cy="452.24" r="1.75" fill="#36a341"/>
<line x1="397.26" y1="448.44" x2="397.26" y2="467.42" stroke="#4aad52" stroke-width="0.9"/>
<line x1="395.76" y1="448.44" x2="398.76" y2="448.44" stroke="#4aad52" stroke-width="0.9"/>
<line x1="395.76" y1="467.42" x2="398.76" y2="467.42" stroke="#4aad52" stroke-width="0.9"/>
<circle cx="397.26" cy="458.31" r="1.75" fill="#36a341"/>
<line x1="430.71" y1="455.28" x2="430.71" y2="478.05" stroke="#4aad52" stroke-width="0.9"/>
<line x1="429.21" y1="455.28" x2="432.21" y2="455.28" stroke="#4aad52" stroke-width="0.9"/>
<line x1="429.21" y1="478.05" x2="432.21" y2="478.05" stroke="#4aad52" stroke-width="0.9"/>
<circle cx="430.71" cy="465.14" r="1.75" fill="#36a341"/>
<line x1="464.17" y1="459.07" x2="464.17" y2="464.38" stroke="#4aad52" stroke-width="0.9"/>
<line x1="462.67" y1="459.07" x2="465.67" y2="459.07" stroke="#4aad52" stroke-width="0.9"/>
<line x1="462.67" y1="464.38" x2="465.67" y2="464.38" stroke="#4aad52" stroke-width="0.9"/>
<circle cx="464.17" cy="462.11" r="1.75" fill="#36a341"/>
<polyline points="363.8,484.88 372.16,485.64 380.53,488.67 397.26,488.67 430.71,488.67 464.17,490.19" fill="none" stroke="#c0103c" stroke-width="1" stroke-linejoin="round"/>
<line x1="363.8" y1="481.84" x2="363.8" y2="487.91" stroke="#c8284d" stroke-width="0.9"/>
<line x1="362.3" y1="481.84" x2="365.3" y2="481.84" stroke="#c8284d" stroke-width="0.9"/>
<line x1="362.3" y1="487.91" x2="365.3" y2="487.91" stroke="#c8284d" stroke-width="0.9"/>
<circle cx="363.8" cy="484.88" r="1.75" fill="#c0103c"/>
<line x1="372.16" y1="483.36" x2="372.16" y2="488.67" stroke="#c8284d" stroke-width="0.9"/>
<line x1="370.66" y1="483.36" x2="373.66" y2="483.36" stroke="#c8284d" stroke-width="0.9"/>
<line x1="370.66" y1="488.67" x2="373.66" y2="488.67" stroke="#c8284d" stroke-width="0.9"/>
<circle cx="372.16" cy="485.64" r="1.75" fill="#c0103c"/>
<line x1="380.53" y1="483.36" x2="380.53" y2="493.23" stroke="#c8284d" stroke-width="0.9"/>
<line x1="379.03" y1="483.36" x2="382.03" y2="483.36" stroke="#c8284d" stroke-width="0.9"/>
<line x1="379.03" y1="493.23" x2="382.03" y2="493.23" stroke="#c8284d" stroke-width="0.9"/>
<circle cx="380.53" cy="488.67" r="1.75" fill="#c0103c"/>
<line x1="397.26" y1="481.08" x2="397.26" y2="496.26" stroke="#c8284d" stroke-width="0.9"/>
<line x1="395.76" y1="481.08" x2="398.76" y2="481.08" stroke="#c8284d" stroke-width="0.9"/>
<line x1="395.76" y1="496.26" x2="398.76" y2="496.26" stroke="#c8284d" stroke-width="0.9"/>
<circle cx="397.26" cy="488.67" r="1.75" fill="#c0103c"/>
<line x1="430.71" y1="480.32" x2="430.71" y2="497.02" stroke="#c8284d" stroke-width="0.9"/>
<line x1="429.21" y1="480.32" x2="432.21" y2="480.32" stroke="#c8284d" stroke-width="0.9"/>
<line x1="429.21" y1="497.02" x2="432.21" y2="497.02" stroke="#c8284d" stroke-width="0.9"/>
<circle cx="430.71" cy="488.67" r="1.75" fill="#c0103c"/>
<line x1="464.17" y1="487.91" x2="464.17" y2="492.47" stroke="#c8284d" stroke-width="0.9"/>
<line x1="462.67" y1="487.91" x2="465.67" y2="487.91" stroke="#c8284d" stroke-width="0.9"/>
<line x1="462.67" y1="492.47" x2="465.67" y2="492.47" stroke="#c8284d" stroke-width="0.9"/>
<circle cx="464.17" cy="490.19" r="1.75" fill="#c0103c"/>
<text x="54.1" y="472" font-size="8.6" text-anchor="middle" stroke="#2b2b2b" stroke-width="0.07" textLength="65.5" lengthAdjust="spacingAndGlyphs" transform="rotate(-90 54.1 472)">IFN-γ production (%)</text>
<line x1="240.9" y1="546.2" x2="246.3" y2="546.2" stroke="#b8103a" stroke-width="0.9"/>
<circle cx="243.6" cy="546.2" r="1.5" fill="#b8103a"/>
<text x="249.5" y="548.4" font-size="7" stroke="#2b2b2b" stroke-width="0.14" textLength="15.2" lengthAdjust="spacingAndGlyphs">K562</text>
<line x1="268.6" y1="546.2" x2="274" y2="546.2" stroke="#2f9a3a" stroke-width="0.9"/>
<circle cx="271.3" cy="546.2" r="1.5" fill="#2f9a3a"/>
<text x="277" y="548.4" font-size="7" stroke="#2b2b2b" stroke-width="0.14" textLength="36" lengthAdjust="spacingAndGlyphs">K562/CD38</text><rect x="0.5" y="0.5" width="519" height="556" fill="none" stroke="#444" stroke-width="1"/></svg>
</body></html>
